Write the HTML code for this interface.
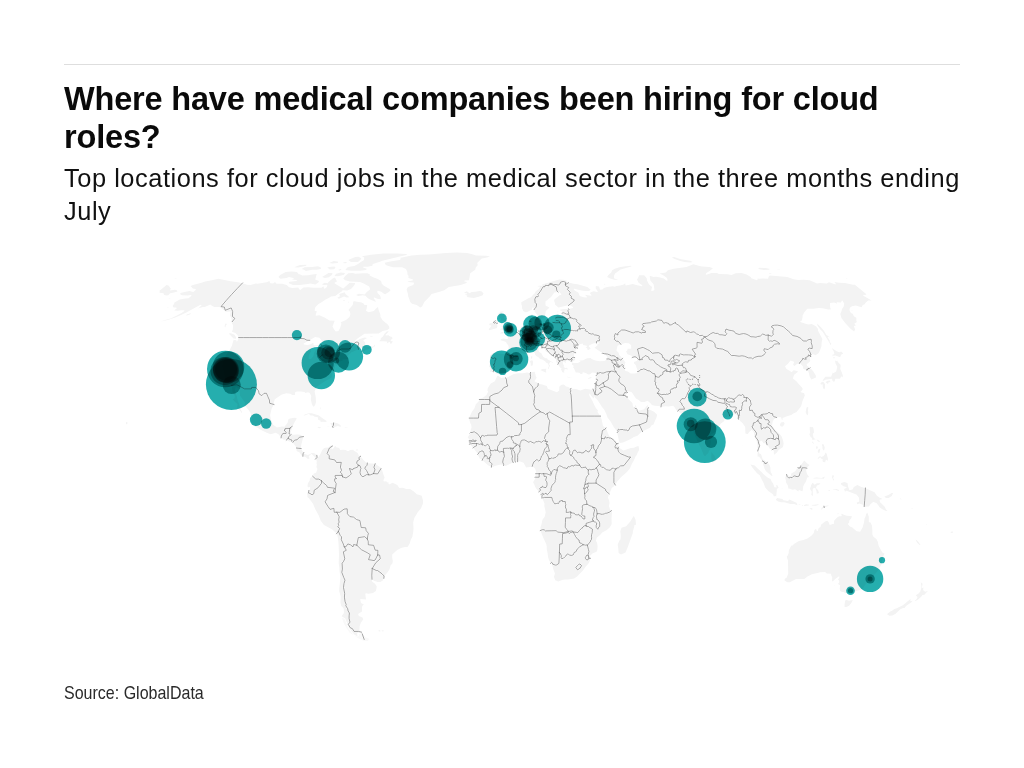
<!DOCTYPE html>
<html lang="en"><head><meta charset="utf-8"><title>Where have medical companies been hiring for cloud roles?</title>
<style>
html,body{margin:0;padding:0;background:#fff}
body{width:1024px;height:768px;position:relative;overflow:hidden;font-family:"Liberation Sans",Arial,sans-serif;color:#111}
.rule{position:absolute;left:64px;top:64px;width:896px;height:1px;background:#dedede}
h1{position:absolute;left:64px;top:81px;margin:0;font-size:32.5px;line-height:37.9px;font-weight:700;letter-spacing:-0.18px;color:#0a0a0a;white-space:nowrap}
.sub{position:absolute;left:64px;top:162.3px;margin:0;font-size:25.4px;line-height:33px;font-weight:400;letter-spacing:0.545px;color:#111;white-space:nowrap}
.src{position:absolute;left:64px;top:683.1px;font-size:17.9px;line-height:20px;color:#2a2a2a;white-space:nowrap;transform-origin:0 0;transform:scaleX(0.895)}
svg{position:absolute;left:0;top:0}
.bub circle{mix-blend-mode:multiply}
</style></head><body>
<div class="rule"></div>
<h1>Where have medical companies been hiring for cloud<br>roles?</h1>
<p class="sub">Top locations for cloud jobs in the medical sector in the three months ending<br>July</p>
<svg width="1024" height="768" viewBox="0 0 1024 768">
<path d="M341.8,617.4 344.2,624.2 349.4,632.5 357.8,638.0 362.9,640.4 365.0,641.0 368.0,641.0 368.6,639.7 369.8,639.0 365.5,637.3 362.9,634.5 361.9,633.6 360.5,633.5 359.2,634.2 359.1,636.1 357.0,636.8 354.0,635.4 350.9,631.7 347.8,627.4 346.3,623.1 344.6,619.0Z" fill="#f9f9f9" fill-rule="evenodd"/>
<path d="M952.9,532.7 953.1,531.5 950.8,531.7 950.7,532.9ZM914.8,601.3 917.9,599.7 921.9,596.0 922.1,595.3 924.8,594.5 925.9,593.1 927.9,591.1 925.1,591.7 923.5,590.5 923.1,589.5 923.5,587.6 922.4,588.1 921.8,587.6 922.4,585.0 922.4,583.6 921.4,582.9 920.9,582.1 920.9,583.0 921.5,586.6 921.2,588.5 920.3,591.5 918.6,593.6 915.8,595.2 917.3,596.8 917.4,597.8 916.2,599.4 914.6,601.0ZM926.0,525.0 926.2,525.1 926.6,524.2 926.1,523.8ZM915.7,540.0 917.2,542.7 919.9,545.2 920.5,545.1 918.3,541.8 915.8,539.6ZM887.9,614.6 889.2,615.8 892.5,615.5 895.6,613.8 900.0,609.5 902.4,608.3 905.0,607.8 905.0,607.2 906.3,605.8 911.8,601.9 912.6,600.7 911.0,601.2 910.5,601.1 910.3,600.7 910.6,599.1 910.2,599.2 902.9,605.3 896.2,608.6 894.3,609.1 892.1,610.8 890.3,611.6 887.1,613.9 886.7,614.6ZM911.2,508.2 912.6,508.7 912.9,508.2 911.2,507.9ZM899.7,497.4 901.0,499.7 901.4,499.2ZM885.9,497.9 888.6,497.9 891.8,496.0 893.1,493.1 891.7,492.9 887.9,495.2 884.4,496.5ZM892.3,489.6 894.6,493.0 892.7,489.9ZM843.5,486.3 846.3,487.1 846.6,487.5 846.4,488.1 844.0,489.1 845.0,491.8 846.2,490.8 846.6,490.7 856.4,494.5 858.9,497.5 859.3,501.3 859.0,501.7 856.8,502.4 857.1,504.2 859.5,503.5 862.9,504.7 864.4,506.4 865.4,506.7 868.9,506.4 870.4,504.2 873.1,502.1 873.5,502.1 876.8,503.2 879.8,507.5 882.8,509.6 886.1,511.0 887.6,510.2 886.1,509.7 884.7,506.7 882.2,504.2 880.1,502.3 879.5,499.9 879.9,499.6 881.5,499.4 881.6,498.3 879.8,497.8 876.9,495.7 874.5,492.3 866.0,488.5 860.2,486.5 857.4,485.1 853.9,487.0 852.5,489.4 849.7,490.2 849.3,489.9 848.0,486.2 847.5,482.9 844.2,481.9 841.2,483.1 840.8,484.2ZM787.3,582.2 789.8,582.3 796.0,579.1 804.3,578.9 807.5,576.4 811.9,574.3 819.4,572.5 819.9,572.2 825.1,571.9 826.8,573.4 830.9,573.8 831.5,576.0 832.2,577.3 832.0,580.9 832.8,581.4 835.0,579.3 838.6,576.5 839.0,576.4 839.3,576.6 839.4,577.2 837.7,580.5 838.5,580.0 839.0,580.1 839.3,582.3 838.0,583.9 840.2,585.3 839.7,588.4 840.2,591.1 841.9,591.9 843.9,592.1 845.5,593.3 848.6,591.9 849.7,590.9 850.1,590.7 850.5,591.0 851.0,592.6 852.0,593.9 854.1,592.1 857.1,590.7 862.3,589.5 864.8,585.3 867.4,582.6 868.6,580.5 877.1,571.8 881.9,563.8 882.2,560.2 883.3,556.0 884.6,553.5 882.8,552.9 880.9,550.1 878.5,545.5 877.9,542.0 876.4,538.9 873.4,536.7 872.4,534.4 872.3,529.6 871.9,525.6 870.6,522.4 869.2,522.3 868.8,522.0 868.8,516.8 867.3,512.4 866.2,514.0 865.4,517.1 864.6,518.3 863.9,522.7 862.6,527.6 860.1,531.7 856.6,531.3 852.3,527.6 850.0,526.6 847.9,524.3 848.0,523.6 849.1,523.1 849.3,520.4 851.1,518.5 852.0,516.2 846.8,515.8 844.3,515.0 842.3,513.9 841.2,513.7 841.7,515.6 841.6,516.0 841.2,516.2 839.4,516.2 837.8,516.9 836.1,518.4 834.1,520.7 833.9,523.7 833.7,524.0 832.6,524.1 829.8,524.9 829.5,524.6 828.5,521.9 827.3,520.8 825.1,521.4 821.0,524.8 820.6,527.1 818.7,528.1 817.7,531.0 817.3,531.1 816.9,530.9 816.0,528.7 814.5,530.0 813.8,533.1 811.7,535.4 807.4,538.6 803.5,539.9 798.9,541.0 794.3,543.8 792.2,545.8 791.6,545.8 791.4,545.3 788.8,550.4 788.7,553.1 787.9,555.2 786.7,556.7 788.0,560.6 788.2,573.8 786.6,577.7 784.8,578.7 784.5,580.5ZM469.2,439.2 469.5,441.2 469.5,444.0 471.4,445.7 476.8,452.4 478.1,455.4 479.7,458.5 482.2,459.9 488.4,465.4 492.0,467.2 495.6,465.7 500.7,464.6 503.4,465.1 505.5,466.0 513.7,462.2 519.4,461.3 523.6,462.8 526.1,467.4 529.6,467.1 532.0,466.5 533.4,466.9 535.2,468.7 536.1,471.8 535.8,473.7 534.8,479.3 533.1,482.3 534.3,484.5 535.1,486.8 536.3,488.8 538.7,491.4 540.8,494.0 541.8,496.2 542.1,497.9 544.5,503.5 544.3,505.9 545.7,512.3 544.6,517.1 542.4,519.8 541.4,524.7 540.5,527.0 540.5,530.6 542.1,534.9 546.3,544.3 546.8,547.1 546.7,548.8 547.6,553.2 548.2,557.8 549.2,560.4 551.0,563.6 552.2,564.8 553.3,569.2 555.0,573.6 553.9,576.7 554.9,579.2 555.1,580.3 556.1,580.4 558.2,581.5 563.0,579.8 565.4,579.4 567.8,579.5 571.6,579.1 574.2,578.4 577.1,576.4 583.0,570.6 585.2,567.3 588.1,564.1 589.4,561.9 590.3,558.8 589.8,556.3 589.9,555.9 592.4,553.5 596.5,551.8 597.3,549.9 597.6,545.9 597.1,543.1 596.0,540.7 596.7,537.8 600.3,534.8 602.2,532.5 606.8,530.1 609.9,527.3 611.7,523.9 611.5,518.1 612.0,511.6 610.1,509.6 608.9,506.0 609.5,503.0 609.1,500.2 607.9,497.7 608.7,495.0 611.2,489.5 611.6,487.9 613.4,486.7 615.1,485.0 617.4,481.2 618.2,480.6 621.2,477.1 626.9,471.9 629.9,468.4 631.8,464.1 634.0,460.3 635.4,456.8 636.6,455.3 637.7,452.5 639.1,449.9 638.7,446.2 637.1,446.3 634.0,447.8 630.9,448.1 623.5,450.4 617.9,447.0 617.8,446.6 618.2,446.1 618.5,444.0 613.2,438.4 610.1,436.9 608.7,435.0 605.9,428.1 603.0,426.0 601.6,419.2 600.2,415.8 597.4,411.9 598.0,410.4 596.0,408.2 594.0,404.6 592.5,401.1 589.4,395.8 589.1,394.1 589.3,393.7 589.6,393.5 590.0,393.7 590.9,395.4 593.6,398.6 594.2,396.8 594.6,396.6 595.1,396.7 595.1,398.2 595.9,398.3 597.7,400.3 602.0,407.1 604.3,409.8 606.4,414.2 607.5,417.4 610.6,421.4 614.0,427.6 616.8,430.9 619.1,441.4 619.7,442.9 623.0,442.6 630.3,439.2 633.9,437.1 637.5,435.7 640.3,432.9 642.2,431.6 650.0,427.8 651.6,425.2 653.5,424.6 655.0,420.7 656.4,417.8 657.2,414.8 654.1,411.8 649.3,409.5 648.0,407.2 647.7,404.8 644.1,409.3 640.6,410.2 637.9,410.4 636.2,408.8 636.0,408.4 636.3,406.5 635.5,405.0 635.1,405.9 635.2,407.7 634.9,408.0 634.4,407.9 632.9,406.0 632.5,403.3 631.2,401.8 628.7,399.6 626.3,394.8 626.0,393.1 626.3,392.7 627.6,392.5 628.3,391.4 628.7,391.2 631.8,392.3 635.9,398.5 638.7,400.0 641.0,402.0 644.4,402.0 647.6,400.7 650.0,402.7 651.9,405.1 654.8,405.8 658.7,406.1 661.5,406.8 665.7,406.2 668.4,406.4 673.2,405.8 674.8,407.6 676.4,410.3 681.2,413.4 682.7,413.6 682.7,414.4 681.0,415.5 684.5,419.0 685.8,419.5 686.7,419.1 688.5,415.6 689.0,415.4 689.4,415.7 690.2,418.4 691.3,425.0 694.8,435.0 698.0,442.6 700.7,447.4 703.9,455.3 705.2,456.2 706.5,454.4 708.3,453.0 709.0,450.4 710.3,450.0 710.0,445.6 710.8,442.1 709.8,438.1 710.3,434.9 714.8,432.0 714.8,430.5 718.8,426.7 720.6,423.8 724.3,420.9 724.6,417.9 724.8,417.6 727.5,416.6 729.3,416.9 730.9,416.3 732.6,416.1 733.2,415.3 734.7,414.1 735.2,414.1 736.7,415.0 737.6,417.7 738.6,419.1 740.4,421.3 742.7,423.2 745.2,427.0 745.4,433.4 746.1,433.7 747.8,433.9 749.4,431.7 750.8,430.8 751.4,429.9 751.9,430.1 753.6,432.0 754.7,436.5 755.7,439.3 756.6,440.8 757.5,444.1 757.5,446.8 758.0,451.2 757.5,454.7 757.7,456.8 758.8,456.6 759.2,456.8 763.0,462.0 763.2,464.5 764.6,468.8 766.0,471.3 771.1,475.6 772.0,476.1 772.5,475.9 771.6,473.5 770.7,472.3 770.4,469.3 770.4,467.3 769.2,464.5 767.5,462.6 766.3,462.0 764.9,460.5 763.0,459.6 762.4,458.6 761.7,456.0 760.9,453.9 759.3,453.6 759.0,453.3 758.9,449.7 759.9,445.9 759.9,441.5 761.2,440.7 761.7,440.7 763.0,442.2 763.1,443.2 764.9,443.2 767.2,444.5 770.0,449.1 771.8,449.2 772.6,449.7 773.8,450.9 773.9,454.0 774.2,454.7 776.9,452.6 778.6,449.9 783.0,446.9 783.6,443.3 783.0,440.2 781.5,436.2 779.4,433.7 774.5,429.0 772.3,426.0 772.1,424.9 772.6,421.8 773.8,419.4 777.1,417.0 781.0,417.3 781.8,419.4 782.5,420.2 782.5,418.5 782.8,418.1 786.2,416.6 791.2,414.9 792.9,413.7 796.6,411.9 800.9,406.6 801.7,404.3 802.4,401.3 804.8,395.6 804.1,393.3 800.9,392.3 800.6,391.9 800.7,391.4 801.5,390.9 802.8,389.1 802.0,387.4 798.9,384.2 796.4,381.3 793.5,379.1 792.9,378.2 794.2,374.7 798.0,371.7 797.2,371.1 793.6,370.3 791.8,372.0 791.3,372.1 789.5,370.8 786.5,369.0 785.1,366.6 785.0,366.2 788.2,363.5 790.5,360.6 794.0,361.8 794.1,362.2 793.1,364.8 794.4,366.1 796.6,364.3 799.4,363.1 801.2,364.4 803.2,366.8 803.2,367.4 802.8,367.7 803.6,369.0 808.0,370.6 809.0,373.5 809.6,376.2 811.3,379.6 816.0,377.5 815.7,375.3 813.0,371.0 810.2,368.1 807.2,366.1 806.6,364.0 806.9,363.7 807.8,363.4 810.3,361.0 809.7,358.1 812.2,354.3 812.8,354.1 815.6,355.2 818.7,353.1 820.2,349.7 821.5,346.1 821.6,342.4 822.4,339.1 818.0,330.7 817.9,328.8 815.9,326.2 811.7,324.0 808.8,324.6 806.3,324.0 800.3,322.0 800.4,321.3 801.9,320.6 802.6,316.9 802.5,315.8 804.2,312.5 807.3,308.7 813.2,308.8 818.7,308.0 822.7,308.3 828.2,309.4 831.2,309.2 830.2,307.9 829.9,303.3 830.1,302.9 834.1,302.5 837.3,303.8 836.7,302.9 836.9,302.3 841.0,302.5 841.7,300.8 842.4,300.6 844.2,303.5 843.7,306.4 842.0,308.9 841.4,311.5 840.3,314.1 841.4,318.0 845.6,323.4 850.8,328.9 854.2,331.6 855.1,329.2 853.9,326.4 854.2,326.0 855.9,325.6 854.5,324.0 854.5,323.5 856.9,322.1 856.4,320.9 856.3,317.8 853.9,316.2 852.7,313.8 850.9,312.9 849.4,310.1 849.9,307.7 851.9,306.2 855.6,305.6 861.7,307.2 862.7,305.0 864.3,304.4 866.1,302.3 868.2,300.5 871.6,300.4 863.4,295.8 863.2,295.3 863.5,294.8 865.2,295.0 866.4,294.3 854.9,284.8 852.9,284.7 845.0,283.0 839.1,282.7 834.4,282.1 835.8,283.7 835.8,284.1 835.5,284.4 829.0,282.3 826.7,283.4 820.4,283.0 817.1,283.4 809.6,280.3 803.5,279.8 798.1,280.0 793.5,279.3 787.3,277.1 770.0,275.5 768.7,276.5 768.2,278.4 767.9,278.8 762.9,278.6 759.4,278.8 757.6,278.6 757.4,279.9 756.9,280.2 751.3,278.3 751.1,278.0 751.1,277.2 746.6,274.5 741.7,273.1 735.7,273.3 731.6,275.0 727.3,274.3 718.8,274.0 717.0,273.1 711.7,273.1 706.2,274.8 705.8,274.6 705.7,274.2 706.4,273.1 709.9,270.8 712.9,268.2 709.4,266.9 701.9,266.4 698.6,265.8 693.4,264.3 686.5,266.9 673.7,268.7 667.9,270.3 665.8,272.6 659.6,273.6 663.6,275.4 667.0,277.9 667.6,280.2 667.2,280.8 666.7,280.7 663.7,278.5 660.3,277.4 656.2,276.7 653.5,276.9 649.7,275.8 650.3,280.4 653.6,284.2 654.4,289.6 654.2,290.2 651.8,290.9 651.3,290.7 651.2,290.3 652.1,286.9 649.0,284.5 647.1,280.7 646.7,278.3 644.2,275.2 639.1,275.2 638.4,277.2 637.0,279.4 638.6,282.8 642.2,285.3 642.4,285.8 642.0,286.2 637.1,285.2 632.8,283.9 625.8,285.4 625.4,285.0 625.3,283.2 623.7,284.6 620.3,285.6 616.5,285.9 614.8,286.7 612.6,286.2 607.2,286.9 603.9,287.9 602.4,289.6 600.4,289.7 599.9,289.3 599.0,286.4 595.8,285.9 595.7,288.6 597.1,290.3 597.7,291.4 597.7,291.9 597.1,292.1 593.9,291.2 591.4,291.9 589.8,292.9 591.4,295.0 591.4,295.5 591.1,295.8 585.0,294.7 586.9,296.7 586.9,297.2 586.5,297.5 583.5,297.3 579.8,296.0 578.3,292.6 575.0,290.8 573.8,289.6 573.8,289.1 574.4,288.8 581.3,290.6 585.3,291.1 589.1,291.1 590.7,289.8 587.3,286.9 577.5,284.2 573.6,283.7 570.6,283.0 567.7,282.9 565.8,282.1 565.7,281.7 565.9,281.4 567.7,280.9 563.3,279.8 559.2,279.4 542.1,284.5 542.7,285.2 542.4,285.8 538.7,285.7 537.4,286.4 539.6,286.4 540.0,286.7 540.0,287.1 539.0,288.8 535.6,291.5 534.8,293.3 532.9,294.9 531.0,297.2 528.4,298.3 521.3,302.3 521.4,304.6 522.1,306.3 522.0,308.6 523.0,309.9 523.1,310.9 525.6,312.3 527.4,311.9 530.4,310.2 531.9,309.7 532.4,307.8 533.0,307.5 533.4,307.8 534.4,309.9 534.5,311.5 538.2,316.1 538.2,316.5 537.9,316.9 538.1,317.8 538.7,318.9 540.2,319.4 543.7,317.4 544.4,317.2 545.0,316.1 545.8,310.9 549.3,307.8 548.6,306.9 545.7,305.7 545.4,303.4 545.6,300.9 547.0,300.4 548.7,298.7 551.1,297.1 554.3,292.5 558.2,291.9 559.5,292.1 561.2,293.9 561.3,294.4 561.1,294.8 559.6,295.2 554.4,299.5 554.1,300.8 555.0,303.3 555.0,304.5 558.4,307.5 566.1,305.7 569.6,305.1 573.0,307.1 573.1,307.9 568.8,309.1 565.6,309.0 562.2,309.2 560.0,309.8 560.1,310.5 562.0,311.3 562.3,311.6 562.3,313.3 561.7,315.5 561.2,315.8 559.5,315.5 558.0,313.9 556.1,314.9 555.6,316.8 556.0,319.1 552.6,322.9 550.8,322.9 549.8,321.8 547.3,322.1 544.4,323.4 541.6,324.3 539.6,322.4 535.7,324.0 534.2,324.0 533.9,323.6 533.9,322.9 532.5,322.9 530.7,321.4 530.7,320.7 532.2,317.5 532.6,314.0 528.4,315.7 528.3,316.7 530.3,322.7 529.5,324.2 528.1,325.1 526.0,325.7 522.8,325.9 521.4,326.8 519.0,331.1 515.2,332.4 514.7,333.9 513.5,335.2 510.2,337.1 508.3,336.9 507.7,336.5 507.9,338.5 507.6,338.9 506.3,339.0 503.1,338.6 500.6,339.6 500.7,340.2 501.4,340.6 504.7,341.5 506.1,342.1 506.7,343.6 508.4,345.4 508.7,347.3 508.5,350.0 507.8,353.4 506.8,354.0 504.0,354.0 493.3,352.9 490.0,355.2 490.7,357.3 491.1,360.2 489.1,366.8 490.6,368.1 490.1,371.8 492.2,371.8 494.5,371.3 496.2,373.4 498.0,374.4 500.4,372.7 505.0,372.2 505.6,372.5 508.1,370.2 509.4,368.0 510.7,367.0 509.7,365.1 510.5,363.4 513.4,360.0 515.6,359.1 517.8,356.8 517.4,356.0 517.7,354.1 519.7,352.8 523.1,353.5 524.4,354.1 525.8,353.7 527.1,352.4 528.9,351.8 529.9,350.7 531.1,350.3 533.5,351.5 534.7,353.0 535.2,354.7 536.5,356.2 538.2,357.1 540.1,358.9 542.2,359.6 545.1,361.2 545.9,362.6 547.6,363.2 548.5,364.8 548.9,366.3 548.2,367.6 547.9,368.8 548.3,368.9 549.1,368.0 549.2,366.7 550.2,366.0 549.0,364.0 550.3,362.0 550.9,361.8 553.2,363.3 553.3,363.1 552.2,361.9 547.4,359.2 547.2,358.8 547.4,358.3 545.4,358.2 543.2,356.7 541.3,353.3 539.2,352.0 538.4,350.7 538.7,349.2 538.4,347.6 538.7,347.3 541.3,346.3 542.2,347.0 541.9,348.1 542.4,348.9 543.2,347.8 543.8,347.8 544.9,348.8 545.0,349.8 545.7,351.3 551.1,354.4 554.9,357.1 555.6,357.8 556.1,359.6 556.2,362.0 560.4,367.8 561.7,368.4 561.6,368.9 560.7,369.6 561.7,370.6 562.2,372.4 562.8,372.0 563.1,372.1 563.5,372.7 564.4,372.4 564.0,371.0 564.2,370.7 564.6,370.6 564.3,369.7 564.6,369.3 566.3,369.1 567.2,369.7 567.8,369.0 566.9,367.7 565.1,367.9 563.7,367.1 563.7,366.5 564.4,366.0 564.0,365.7 562.9,363.6 562.8,362.1 563.5,361.5 564.0,361.4 565.3,362.9 566.0,362.3 565.6,361.6 565.7,361.1 567.1,360.3 568.6,360.3 570.8,360.6 571.4,361.2 572.0,363.4 571.9,364.7 573.2,365.2 573.6,366.2 573.0,367.8 573.5,367.8 573.8,368.0 575.8,372.6 577.2,372.4 579.4,372.8 580.7,374.1 582.3,373.9 582.6,372.6 583.2,372.3 586.3,373.2 588.3,374.6 590.1,374.3 592.1,372.4 596.1,373.1 596.4,373.6 595.7,376.6 596.1,379.7 594.7,384.6 594.3,386.9 593.3,388.9 591.3,389.8 585.1,388.7 580.4,390.5 575.9,389.0 571.1,388.7 568.1,386.9 566.1,386.6 564.5,384.9 563.3,384.6 561.1,384.9 559.3,386.7 559.2,390.5 556.9,392.2 547.8,388.7 546.8,386.0 542.2,384.6 538.1,383.7 536.7,382.2 534.7,381.6 534.5,381.0 536.1,378.7 536.6,377.5 535.7,375.9 535.4,374.1 534.7,372.9 534.8,372.5 535.5,372.1 534.0,371.7 529.2,372.9 527.2,372.6 522.6,373.2 518.1,373.2 513.3,374.3 506.1,378.1 503.7,377.6 501.3,377.9 498.2,375.8 497.2,376.1 494.9,381.2 490.8,383.5 488.9,386.2 487.7,388.4 487.4,390.8 488.0,391.3 488.1,391.7 486.5,395.0 483.2,397.4 479.8,399.0 478.6,401.5 475.8,404.3 474.5,408.2 472.0,411.4 469.6,416.8 469.2,419.6 470.4,423.5 471.1,424.2 471.6,427.5 470.8,429.4 470.2,433.8 468.8,435.4 467.7,437.4ZM619.3,355.1 618.6,352.8 616.4,350.6 617.5,345.7 620.8,344.2 625.2,343.0 628.8,343.3 630.9,344.9 631.1,345.3 631.2,348.5 630.8,348.7 627.7,348.7 627.1,350.8 626.0,351.3 627.5,354.3 631.6,355.8 632.5,358.1 633.8,357.1 636.4,357.7 636.7,358.0 637.2,360.8 634.0,361.9 633.9,363.2 635.8,365.3 636.5,367.6 637.7,370.6 637.7,372.9 634.4,373.6 630.7,373.6 627.9,371.5 625.3,370.9 624.5,368.1 625.0,362.8 625.8,362.2 624.9,361.8 623.3,359.4ZM575.2,359.2 574.7,358.0 573.5,356.5 573.4,356.1 574.2,355.4 574.1,353.9 575.4,353.2 575.7,349.6 576.0,349.3 577.4,349.1 577.5,348.2 579.5,344.3 582.6,343.6 583.0,344.0 583.0,344.9 584.2,345.3 586.9,345.7 587.1,346.0 587.0,346.5 585.5,347.6 587.1,348.1 587.6,350.1 588.5,349.9 590.7,348.5 588.7,346.3 588.8,345.8 589.9,344.9 593.1,343.6 594.7,343.3 596.5,343.3 596.6,342.7 597.1,342.5 599.0,342.5 599.4,342.7 599.4,343.2 599.1,343.5 597.6,344.1 597.4,345.6 594.5,347.8 603.3,353.7 606.3,355.5 607.3,357.6 606.9,359.5 604.4,361.0 599.5,361.3 596.6,360.7 594.6,360.2 591.6,359.0 590.8,357.9 587.5,358.2 585.4,358.9 583.4,360.2 580.8,360.5 578.8,360.4 580.3,361.0 580.5,361.6 577.9,363.0 574.5,363.1 572.3,362.7 572.1,362.4 572.2,362.0 575.0,360.1ZM532.2,319.8 532.8,320.4 533.3,320.1 533.1,319.7ZM536.0,318.7 534.8,319.2 535.0,320.0 536.4,320.5 537.2,319.1 537.1,318.5ZM846.4,606.9 849.1,605.8 851.5,602.7 852.8,600.0 849.1,600.7 845.8,599.7 845.0,601.6 844.6,604.4 844.6,606.9ZM852.2,311.1 852.6,310.7 851.8,310.3 851.7,310.9ZM846.4,279.1 847.5,279.1 846.7,278.5 846.0,278.6ZM833.9,351.8 834.4,354.1 833.9,354.6 832.5,354.3 832.9,355.0 832.4,355.6 832.2,356.3 832.4,356.5 832.5,356.1 832.8,355.8 835.6,355.5 840.1,357.3 841.1,354.7 843.3,353.6 841.2,351.4 839.7,352.2 839.3,352.2 836.6,351.2 831.7,348.1ZM833.0,357.2 834.0,358.7 834.6,358.1 835.1,358.0 834.4,357.2ZM821.0,384.4 821.7,384.6 822.3,384.3 822.8,384.5 822.7,386.5 823.5,388.8 824.3,389.2 824.8,388.4 825.1,387.1 824.9,385.1 825.2,384.1 824.3,383.4 823.9,382.3 822.0,381.7 820.4,383.4ZM823.9,380.7 825.1,379.7 831.7,378.7 832.2,379.1 832.1,380.2 834.0,382.0 835.3,380.1 835.0,379.3 835.3,378.8 839.9,378.8 840.7,377.4 840.8,376.7 841.2,376.4 841.7,376.5 842.2,377.5 843.0,376.0 841.8,372.4 840.2,368.8 840.6,366.6 840.5,364.8 838.1,362.3 837.1,360.6 837.0,361.0 836.6,361.2 835.1,360.6 835.5,363.5 837.3,366.7 836.2,371.5 833.7,373.1 833.1,372.9 832.9,372.2 831.1,376.7 825.3,376.8 822.5,380.6ZM833.2,490.0 835.3,489.8 838.7,490.9 839.1,490.1 836.4,488.9 833.1,489.6ZM837.3,514.2 838.8,514.0 838.8,513.6 837.2,513.8ZM834.6,585.2 835.8,584.9 833.6,585.1ZM832.9,479.2 833.1,480.7 834.1,479.4 833.1,478.3 833.0,477.9 834.0,476.0 832.7,474.7 832.0,477.3ZM817.1,323.6 817.4,325.4 819.9,328.9 822.8,332.1 829.6,342.9 830.2,344.5 830.9,345.3 830.9,344.2 831.5,343.9 829.8,342.1 829.7,340.6 827.6,337.3 827.7,336.9 828.2,336.8 830.5,337.6 826.4,335.0 823.9,330.8 821.6,328.0ZM826.7,382.9 828.0,383.9 828.6,382.2 829.0,382.1 830.2,382.6 830.2,380.7 829.0,380.4 827.0,381.0 826.5,381.7 826.0,381.6 825.7,382.6ZM828.4,490.7 829.8,490.9 830.1,490.2 828.4,490.1ZM821.6,509.5 823.8,507.6 827.7,506.2 828.8,505.2 824.3,505.9 821.8,507.8 820.8,509.7ZM817.7,459.2 820.0,457.4 820.6,457.4 821.0,458.4 822.8,459.2 822.5,460.5 823.0,461.9 825.4,462.3 825.3,461.6 825.8,459.9 826.5,459.8 827.5,461.0 828.0,459.0 826.7,453.7 825.4,452.5 824.9,454.3 823.6,455.9 821.4,457.1 821.0,456.9 820.1,455.9 818.0,457.8ZM811.8,491.7 811.3,495.1 812.9,495.9 812.7,489.0 813.0,488.6 814.9,487.8 815.3,488.1 816.6,491.8 816.8,493.7 819.0,493.1 818.0,490.1 816.1,488.2 816.0,487.7 816.9,485.6 819.5,484.6 820.4,483.3 816.8,483.3 814.7,484.7 812.6,482.7 811.3,484.8 810.0,489.0ZM820.2,478.4 823.8,478.7 824.9,476.4 821.6,478.1 816.4,477.5 813.5,478.0 813.3,478.4ZM822.5,446.7 822.4,448.5 823.5,450.4 824.2,450.3 824.8,447.7 823.5,444.3 821.8,444.3ZM818.3,452.7 819.3,453.2 820.4,448.4 818.6,449.2 817.7,451.2ZM809.1,433.6 810.4,436.7 811.2,437.7 811.8,437.5 812.2,437.8 812.2,438.2 811.9,438.9 812.7,439.9 814.2,439.4 815.9,439.4 815.3,439.2 813.5,437.4 812.8,434.1 812.9,433.7 814.0,432.6 813.8,429.9 813.0,426.9 812.0,427.2 809.8,426.8 809.7,429.0 810.2,433.3 809.8,433.8ZM816.5,439.6 818.0,441.5 819.9,442.3 819.4,440.7 818.0,439.9ZM815.3,505.8 818.4,505.0 818.5,504.3 811.8,505.1 811.8,505.5ZM816.1,447.4 816.5,449.2 817.3,448.8 818.0,446.8 816.1,446.2ZM811.7,441.7 812.5,442.8 813.4,444.1 813.8,443.6 812.9,441.7ZM809.5,508.6 811.5,509.8 812.7,509.2 812.0,508.1 809.4,508.3ZM785.9,480.2 785.9,482.2 787.9,485.4 788.3,488.4 790.1,488.7 792.5,489.8 795.1,489.3 798.4,491.5 798.6,490.4 799.0,490.1 802.3,491.2 802.8,490.3 803.2,486.5 804.3,483.9 806.0,481.6 807.0,477.9 807.3,477.6 809.2,477.1 807.0,474.1 806.1,470.4 806.8,467.7 809.6,465.0 807.2,463.6 804.2,460.5 802.5,463.1 800.1,466.0 797.6,467.8 795.2,471.3 791.3,473.6 790.7,476.4 790.2,476.5 786.7,474.8 786.1,475.6 785.2,477.7ZM802.8,505.8 803.0,504.9 802.1,504.9 802.0,505.7ZM804.0,506.1 808.8,505.4 809.0,504.8 806.3,504.3 804.1,505.0ZM806.5,414.2 807.7,415.5 808.2,412.9 808.0,410.2 808.3,407.6 807.4,407.0 806.6,407.5 805.6,412.0ZM798.7,504.7 800.3,505.1 800.5,504.5 798.6,504.3ZM775.7,499.8 778.2,501.5 781.1,502.3 784.3,502.3 790.5,504.1 794.2,504.1 797.5,505.2 796.5,502.7 793.6,501.6 790.5,500.1 789.6,499.5 788.2,500.8 787.8,500.9 783.4,500.2 782.5,499.0 777.2,497.9ZM780.3,426.1 782.2,426.8 783.9,425.3 784.6,423.2 783.6,422.1 780.9,422.6 780.0,424.4ZM781.8,489.0 782.3,489.1 782.4,488.5 781.8,488.3ZM780.0,270.0 780.4,269.8 778.3,269.4 776.2,269.5ZM750.7,465.0 752.7,468.0 757.1,473.3 759.7,475.2 762.0,480.1 763.6,482.9 765.2,487.4 768.3,491.1 773.2,494.6 773.8,496.6 775.3,495.9 776.2,496.5 776.9,489.7 776.8,489.0 778.6,487.7 777.2,485.1 776.0,485.5 776.7,487.0 776.4,487.5 774.4,487.3 773.1,483.4 771.6,481.4 770.6,479.1 767.9,477.7 763.3,473.9 761.5,471.9 758.7,469.5 754.7,465.5 750.6,464.5ZM770.7,273.7 772.0,273.5 769.8,272.9 768.7,273.4ZM758.4,268.9 763.8,270.0 768.8,269.7 769.9,269.0 765.8,268.0 758.8,267.8ZM742.5,446.1 742.6,446.1 742.4,441.8ZM711.5,454.0 711.2,457.0 711.6,460.1 712.5,462.5 713.1,462.6 715.8,460.4 715.4,458.0 714.2,455.6 711.5,452.2 711.2,452.2ZM674.7,259.0 680.2,261.1 684.6,262.1 690.2,262.6 692.7,262.1 690.1,260.8 680.8,259.3 674.0,257.0 671.9,257.5ZM618.3,548.5 618.6,553.0 621.0,554.6 625.5,552.6 627.7,547.2 632.8,533.1 632.9,531.2 634.2,526.8 634.3,525.4 634.6,525.1 636.0,524.8 635.6,519.7 633.9,516.0 633.0,516.9 630.5,521.3 626.2,526.3 621.5,527.8 620.3,531.3 620.8,535.7 620.5,539.5 619.4,540.4 617.7,544.5ZM610.2,278.5 614.4,279.7 618.4,279.9 614.4,278.6 614.1,278.3 614.0,275.7 615.1,273.6 620.6,269.6 631.3,266.6 631.3,265.8 625.8,266.2 619.4,267.3 614.8,268.7 612.1,270.2 611.3,272.5 609.2,274.2 608.0,275.5 607.2,277.0ZM624.2,282.1 624.3,281.9 622.4,281.5 622.3,281.8ZM604.0,284.4 605.2,284.4 605.2,283.7 603.8,283.9ZM587.9,378.5 589.0,378.8 591.2,377.9 591.7,376.8 587.8,378.2ZM566.9,377.0 569.4,377.8 572.4,377.5 570.1,377.4 567.7,376.8ZM557.0,312.4 558.4,311.8 558.6,311.5 557.7,311.4 556.8,312.0ZM549.8,314.6 550.3,313.5 550.3,313.5 549.3,314.7 549.4,314.9ZM540.8,370.3 546.1,372.7 546.3,372.1 545.8,370.7 546.5,368.8 542.1,369.1 540.6,370.0ZM530.1,361.7 530.7,363.7 530.8,365.8 531.3,366.1 531.8,365.5 532.7,365.6 533.1,362.1 532.6,360.8 532.0,360.3 530.1,360.9ZM530.8,356.7 531.4,358.7 531.9,358.9 532.3,357.3 532.1,356.1ZM517.7,365.0 518.3,364.4 518.0,364.1 517.1,364.6ZM498.6,314.2 498.9,314.8 498.3,316.1 499.3,316.7 499.5,317.0 499.2,319.0 500.0,318.2 500.4,318.1 500.8,318.4 501.1,319.4 501.1,319.9 500.5,320.3 500.5,321.4 504.0,320.8 504.3,321.4 503.7,322.2 504.8,323.0 504.9,323.4 504.5,325.3 504.3,325.6 503.2,326.0 501.2,325.7 501.1,326.4 501.9,326.3 502.3,326.7 502.3,328.1 499.9,329.6 504.5,330.3 504.9,330.6 504.9,331.0 503.9,331.8 501.2,332.3 499.9,333.9 499.2,334.5 500.1,333.8 501.6,333.4 502.6,333.7 503.1,332.8 504.3,332.4 505.4,332.9 506.5,332.4 508.3,332.1 509.1,332.4 510.5,332.1 511.3,332.3 512.7,331.9 513.4,331.5 513.4,331.2 512.3,330.9 512.1,330.4 512.7,329.5 513.9,328.6 514.2,327.7 513.4,326.9 511.1,326.9 510.9,326.5 511.1,326.0 510.1,324.9 510.4,324.3 510.2,323.6 509.3,322.6 507.9,322.2 506.3,319.1 505.4,318.5 504.4,318.5 504.0,318.2 504.0,317.7 504.6,317.3 504.6,316.8 505.2,316.2 506.5,314.1 506.4,313.9 503.9,313.9 502.0,314.3 501.7,313.8 502.1,312.8 503.9,311.5 500.6,311.5 498.9,313.3 498.0,314.0ZM488.6,329.0 489.5,330.3 495.4,328.4 496.7,328.2 497.4,326.5 497.1,323.5 498.5,322.6 497.4,320.7 495.1,320.2 493.3,320.8 492.7,321.5 493.3,321.6 493.5,322.1 492.6,323.1 489.8,323.2 489.2,325.0 491.1,325.4 491.4,326.0 490.6,326.7 490.1,327.7ZM384.6,262.8 385.8,265.1 388.5,266.1 393.1,267.2 402.1,267.2 406.0,269.0 407.3,272.1 407.6,274.8 408.5,275.7 408.4,278.1 412.6,279.3 413.0,279.8 412.6,280.4 407.7,281.4 407.8,281.9 413.7,282.6 414.1,283.1 413.3,285.1 407.9,287.1 406.6,289.6 407.7,293.0 408.2,296.3 410.3,301.9 412.0,303.8 416.7,305.1 420.2,307.4 422.1,306.5 424.3,301.9 429.7,296.6 431.5,294.0 438.9,291.9 444.2,290.2 448.8,286.9 460.8,285.1 465.8,283.2 467.2,282.1 464.6,281.6 464.3,281.3 464.3,280.9 464.7,280.6 469.0,280.2 470.2,273.3 475.3,269.7 475.7,267.5 477.7,265.3 477.3,263.3 477.4,262.8 481.7,258.6 487.0,257.6 490.0,256.3 485.9,255.8 476.0,255.4 471.5,253.9 467.0,252.9 456.7,252.5 446.1,252.9 428.7,254.5 420.3,254.7 411.6,255.4 399.6,257.9 400.5,258.2 400.8,258.5 400.7,259.0 399.8,260.0 390.3,261.4ZM463.7,292.9 466.6,293.3 466.9,293.6 467.0,294.0 466.7,294.3 464.8,294.7 467.2,295.6 467.3,296.2 466.6,296.9 473.7,298.0 478.7,296.8 482.7,295.3 483.5,293.6 481.8,291.6 479.5,290.9 475.6,291.7 471.7,291.9 469.5,293.2 466.8,291.3ZM161.9,321.3 167.3,319.9 174.5,317.8 181.0,315.1 186.3,312.6 199.5,305.2 201.0,304.8 201.6,305.0 201.5,305.6 199.0,307.7 198.1,308.6 202.9,307.0 204.8,307.0 210.3,304.4 212.0,305.7 214.2,307.0 219.5,307.0 221.9,308.4 225.9,311.8 230.0,311.5 230.5,311.8 230.0,315.4 231.2,318.0 231.8,320.2 231.6,322.7 233.0,325.0 232.9,329.2 231.9,331.7 235.3,333.1 237.5,335.1 238.9,337.7 237.2,341.6 236.5,341.4 236.4,340.2 233.6,339.8 231.9,345.7 228.5,352.1 225.8,355.5 225.1,359.3 223.0,362.4 222.8,366.6 223.3,369.0 224.2,369.8 224.3,373.3 225.2,376.5 225.3,379.2 229.7,381.1 231.4,385.2 232.0,387.3 232.3,391.2 232.8,393.1 234.9,396.1 234.5,398.5 232.6,399.2 235.1,402.1 237.6,404.2 237.1,407.8 238.4,408.8 240.8,411.5 241.3,412.9 241.9,412.4 241.7,411.3 240.6,409.8 240.0,408.0 239.3,404.5 237.8,400.7 236.8,396.3 235.4,392.8 234.8,389.7 235.5,387.4 236.2,387.1 238.9,388.7 239.5,391.2 240.1,395.8 244.9,402.2 244.7,405.5 247.8,408.9 250.3,412.5 251.8,417.3 251.6,420.0 250.6,420.9 254.7,426.6 257.7,427.8 259.3,429.0 263.0,431.0 267.4,433.0 270.8,434.3 275.7,432.8 278.5,434.3 281.4,437.8 283.1,439.4 286.5,440.0 289.3,441.5 292.1,441.5 296.8,448.1 296.4,450.5 297.8,451.7 299.2,452.1 301.4,455.5 306.0,457.2 307.9,458.9 309.5,458.5 308.8,456.3 308.9,455.9 311.2,454.1 311.7,454.1 314.5,456.8 316.8,461.1 316.5,463.9 317.0,464.5 316.4,467.1 317.4,469.0 316.3,472.5 316.0,472.8 313.9,473.4 312.6,475.9 309.9,478.2 309.7,480.4 307.9,483.3 307.5,486.5 308.8,487.4 309.6,486.8 310.0,487.0 310.2,487.4 310.0,489.2 308.9,490.7 307.8,491.9 306.9,494.0 307.4,495.1 307.5,497.3 308.7,498.1 313.0,503.7 315.3,509.2 318.5,515.1 320.9,520.9 324.0,524.9 332.3,529.5 337.1,534.1 338.1,539.1 338.6,544.5 339.0,554.7 338.7,563.5 339.4,567.5 339.5,570.8 340.4,576.7 339.8,584.0 339.3,587.8 339.2,591.3 340.7,596.5 340.5,602.8 341.3,606.3 342.0,606.5 343.8,608.8 343.9,613.1 341.6,616.3 345.2,618.5 347.1,622.8 348.5,627.0 351.5,631.2 354.5,634.7 356.9,636.0 357.5,635.7 357.0,633.8 357.2,633.3 361.3,632.1 359.4,630.4 359.6,626.3 360.8,622.8 363.2,619.4 362.5,617.6 358.8,616.1 358.2,614.3 358.4,613.8 362.0,611.4 362.0,607.1 362.8,605.3 364.0,604.5 361.0,603.1 360.2,599.4 360.7,599.1 366.0,599.6 365.3,593.9 365.5,593.4 365.9,593.3 368.6,593.8 373.0,593.0 375.9,591.1 376.8,586.4 375.0,583.7 372.0,581.6 371.8,579.7 372.4,579.5 373.9,580.7 377.7,581.9 380.4,582.0 382.8,580.5 383.4,578.6 385.8,574.2 387.8,572.1 389.5,569.2 390.5,565.6 392.4,563.6 392.8,560.9 392.2,557.7 392.2,554.4 397.2,550.0 401.0,547.9 404.8,547.0 407.5,547.0 409.6,543.7 411.0,539.3 412.3,537.0 413.2,532.1 413.5,528.4 413.2,522.5 414.3,518.0 417.9,512.1 421.0,508.3 422.9,503.8 423.1,501.0 421.7,495.7 416.8,494.3 413.8,491.4 410.1,488.9 406.4,489.1 402.6,487.7 399.3,487.9 397.3,485.0 392.6,482.8 389.1,484.4 388.6,484.0 388.4,482.3 387.5,482.5 386.1,481.3 383.9,481.4 383.4,480.2 384.6,477.4 383.4,474.6 381.5,468.3 381.1,467.8 375.0,463.8 372.1,463.4 366.9,463.2 363.7,460.2 360.6,456.5 358.8,455.5 357.7,452.9 353.6,450.5 353.4,449.8 350.2,450.1 348.1,451.3 345.5,450.1 343.1,449.8 340.6,450.1 340.2,449.9 339.2,448.0 336.1,447.2 335.3,445.8 333.5,448.3 332.2,449.2 331.8,449.3 331.4,448.7 332.4,445.5 331.7,444.7 328.4,447.5 325.3,447.8 323.9,448.3 322.1,450.2 320.7,453.4 318.3,457.2 317.7,457.1 315.1,453.6 312.9,453.0 310.9,453.3 310.5,453.9 307.8,455.1 304.6,453.9 302.6,451.4 301.0,448.6 301.2,445.3 303.2,436.8 300.5,434.7 297.0,434.4 293.2,434.7 290.1,434.4 289.6,434.0 289.7,433.5 290.5,432.9 292.6,426.2 294.4,422.4 296.6,418.7 296.4,418.0 294.3,417.7 290.1,418.6 288.4,419.3 287.6,422.8 284.5,426.7 281.9,426.5 276.9,427.6 272.9,424.5 270.9,419.2 270.1,415.2 271.6,408.7 273.8,404.5 273.7,402.9 274.8,399.2 281.8,394.4 286.5,393.2 290.2,393.8 292.4,394.9 295.0,394.9 294.9,392.6 296.7,391.4 301.0,391.4 304.5,392.0 305.4,393.1 308.0,392.3 309.7,392.9 311.3,396.1 310.8,399.2 311.9,404.3 313.1,406.6 314.1,406.4 315.2,404.8 316.0,402.0 315.7,397.1 314.6,391.5 316.6,386.7 325.1,380.9 329.2,378.9 331.7,377.2 331.7,372.8 331.2,372.5 331.1,372.1 331.4,369.2 332.3,367.1 332.8,366.9 333.2,367.4 332.9,370.5 335.0,367.7 334.9,365.5 335.6,365.3 336.2,366.1 338.5,364.1 339.3,361.4 343.0,360.7 342.3,360.2 342.6,359.5 348.2,358.7 348.6,358.4 348.0,358.1 347.4,357.0 347.4,356.6 351.0,352.4 361.2,348.1 364.5,347.9 364.7,348.3 364.6,348.8 360.7,351.2 361.2,352.7 366.4,349.8 372.6,347.8 375.1,346.0 374.9,344.4 373.5,346.5 370.9,347.1 367.5,346.8 365.3,345.9 365.1,342.1 363.5,340.9 363.4,340.4 363.6,340.0 367.1,338.0 364.6,337.5 359.8,339.1 355.7,341.4 355.2,341.3 355.0,340.9 357.1,338.7 364.5,333.8 378.7,333.5 382.6,331.1 387.3,329.9 389.3,328.4 389.2,326.5 387.3,323.9 385.2,322.6 382.6,320.3 380.5,317.0 380.3,314.2 378.6,310.1 378.0,307.0 376.3,308.2 373.8,310.9 368.8,312.3 366.2,311.0 366.0,310.6 366.7,308.6 367.2,305.1 364.5,305.1 363.8,303.7 361.6,302.5 354.3,301.2 353.3,301.6 352.7,304.9 348.4,310.0 349.7,311.2 350.4,314.0 349.5,317.0 346.0,319.9 340.7,322.2 341.4,323.7 340.1,328.0 338.5,330.9 335.8,331.5 334.1,329.4 332.5,326.4 334.7,320.7 329.5,320.4 324.5,317.4 319.4,315.3 315.9,315.7 315.7,315.1 316.8,311.2 315.0,311.0 314.6,310.6 315.3,307.2 318.5,304.1 321.6,302.3 325.2,299.7 328.7,298.1 331.0,296.5 335.3,296.0 338.5,293.5 339.0,293.5 339.2,293.0 341.7,291.5 342.6,290.2 347.3,290.6 351.0,288.9 353.3,286.5 355.2,283.8 354.8,282.9 349.7,282.7 343.6,288.2 343.1,288.4 334.7,283.4 334.6,283.0 334.8,282.6 337.0,281.6 335.0,277.5 332.7,278.5 328.4,282.0 327.8,283.3 324.9,282.7 321.7,284.2 323.8,284.9 326.9,284.7 327.3,284.9 327.4,285.3 326.9,287.0 324.8,288.8 324.1,288.5 323.4,286.2 321.4,287.7 313.7,287.7 308.3,287.2 303.4,287.4 300.3,290.1 299.9,289.9 298.2,287.4 292.3,287.9 289.0,287.2 286.7,284.9 282.2,283.7 276.5,283.7 275.0,281.9 273.1,283.4 270.3,283.2 269.9,282.8 269.5,280.9 266.6,282.2 257.6,283.7 255.9,283.5 250.6,284.9 247.0,284.7 242.7,283.2 238.0,282.2 230.5,281.2 218.3,278.8 212.0,280.3 205.1,281.5 201.6,282.7 193.0,284.9 190.6,286.1 192.8,288.6 195.5,289.1 195.8,289.4 195.7,290.0 193.3,291.9 189.3,290.9 180.2,293.1 180.7,294.8 182.1,295.2 187.5,295.5 191.0,295.0 191.5,295.5 191.3,296.0 188.5,298.3 185.2,298.6 179.8,299.6 174.4,302.4 174.3,303.6 172.6,306.0 173.7,307.5 176.2,307.5 176.7,307.9 176.6,308.4 174.2,310.6 177.7,310.7 181.3,310.2 184.0,310.2 184.4,310.5 184.4,311.0 181.6,313.1 176.5,315.8 170.6,318.5 165.1,319.9 160.8,321.4ZM333.7,354.6 328.4,354.5 328.0,354.3 327.9,353.9 329.4,352.4 331.7,351.7 337.1,351.0 337.5,351.2 337.6,351.7 337.2,353.6ZM322.6,359.6 320.4,359.9 318.4,359.0 318.2,358.4 319.5,357.0 320.9,357.1 323.7,355.4 326.1,355.4 328.7,354.7 330.1,354.7 330.5,354.9 330.4,355.6 327.2,357.7ZM313.3,356.4 311.0,358.9 309.1,359.1 308.6,358.8 308.6,356.7 309.1,354.6 311.0,351.6 311.3,350.7 310.6,350.8 310.4,350.1 313.5,347.1 315.5,346.2 319.2,346.4 321.7,345.0 328.3,345.8 330.1,347.9 329.5,350.6 328.9,350.7 326.9,349.2 325.6,351.0 324.5,354.3 322.0,355.0 321.5,354.6 321.5,352.5 319.5,353.3 318.9,352.9 319.0,352.4 320.9,350.7 321.3,348.8 321.3,348.4 319.4,347.2 317.6,348.9 315.6,350.3 314.0,352.9ZM310.1,344.4 307.4,345.0 303.9,344.5 303.5,344.0 303.7,343.5 315.1,337.1 319.4,337.8 321.7,340.6 321.9,343.4 320.5,345.2 320.0,345.1 319.7,344.6 316.4,345.3 313.9,345.2 313.5,344.8 313.4,342.8ZM357.7,450.5 357.8,449.3 356.3,449.5 356.2,450.6ZM339.9,295.9 339.7,296.5 337.2,297.7 338.9,298.8 344.1,296.5 346.6,297.5 349.4,297.2 345.5,294.1 344.7,292.3 339.3,294.0ZM345.3,270.1 351.3,270.7 360.3,270.7 366.0,270.0 366.8,268.8 363.4,267.7 363.2,267.3 363.4,266.8 367.5,266.8 372.4,265.7 372.7,264.2 373.0,263.9 379.8,261.7 382.3,260.7 407.2,254.8 406.0,253.9 396.9,253.4 383.7,253.6 371.0,254.7 361.9,256.2 364.3,257.6 363.8,260.3 360.4,262.2 358.0,264.0 354.8,265.8 354.1,266.0 349.6,266.7 347.3,267.5ZM383.4,341.2 387.1,341.5 387.3,342.2 386.5,343.2 387.3,343.2 389.1,341.9 389.5,341.9 389.9,342.3 390.0,343.5 391.3,343.8 392.7,341.7 392.6,341.3 390.9,340.9 390.6,340.5 390.8,340.0 392.5,338.6 392.1,337.1 390.1,336.5 388.4,335.2 386.0,335.6 385.4,335.3 385.6,334.7 387.4,333.1 388.8,330.9 386.8,331.5 384.7,333.6 382.9,336.4 380.5,338.5 380.9,338.8 380.9,339.3 379.2,341.2ZM345.1,280.2 349.9,281.4 360.1,281.9 363.2,283.2 369.2,286.4 370.1,289.1 370.0,289.5 366.8,292.1 364.6,294.6 358.9,293.7 356.0,295.1 358.4,296.0 362.7,295.2 365.5,295.7 367.6,298.1 370.1,299.5 374.2,301.2 376.2,301.8 373.7,298.2 373.9,297.5 374.4,297.4 377.2,298.8 380.3,299.3 380.9,298.6 380.2,295.8 377.5,292.9 377.3,291.2 377.5,290.8 378.0,290.7 381.3,291.7 384.3,294.0 385.3,294.2 389.1,291.7 390.6,290.3 389.3,288.8 383.8,285.8 381.8,283.7 381.1,280.9 377.8,279.0 373.1,277.3 369.8,275.5 369.5,274.9 370.1,274.4 367.3,273.3 362.8,273.3 355.5,273.8 352.8,273.1 348.3,273.3 345.2,276.0 343.3,278.6ZM379.1,631.5 380.6,631.2 380.0,630.0 378.1,630.7ZM381.9,631.3 383.3,631.5 383.9,630.4 381.7,630.2ZM370.4,336.4 373.0,336.8 372.5,336.3 369.8,335.7ZM367.4,345.2 369.8,345.7 370.3,345.3 369.0,345.2 367.1,344.4ZM348.2,259.9 351.0,262.1 357.9,261.9 360.6,259.7 361.3,258.3 358.6,256.8 355.2,256.9ZM348.4,302.7 349.1,301.7 348.2,301.7 348.0,302.6ZM342.4,262.9 345.5,263.2 347.4,262.3 345.0,261.9ZM347.6,427.5 347.7,427.2 344.8,427.0 344.7,427.6ZM345.1,300.7 345.2,300.2 343.3,300.2 342.9,301.1ZM334.4,276.1 338.1,276.3 344.0,274.7 345.0,273.0 340.7,272.4 336.2,273.8ZM339.7,270.4 341.6,269.5 340.6,269.0 338.0,269.9ZM328.3,427.0 330.3,426.9 327.0,426.4 326.9,426.6ZM330.8,426.9 333.2,427.3 333.8,428.2 334.6,426.9 337.7,426.1 340.5,426.8 341.1,426.1 339.5,424.4 338.0,423.4 335.4,422.8 330.2,423.2 332.0,426.0 331.8,426.6ZM329.2,263.0 332.3,263.4 337.7,263.0 338.3,261.8 333.8,261.0ZM328.0,268.1 329.7,269.5 334.1,269.3 335.5,267.6 334.5,266.5 328.9,267.1 326.4,268.2ZM322.1,276.9 324.9,278.0 328.9,277.3 332.1,274.8 332.4,273.1 328.5,272.9ZM305.4,415.2 308.8,413.7 310.6,415.5 313.0,415.6 314.2,416.5 317.7,417.2 318.0,417.6 318.1,419.7 320.8,420.8 320.8,421.3 320.1,422.0 323.5,421.7 325.1,421.9 327.0,421.2 321.1,417.3 319.0,415.6 311.6,413.3 308.8,413.2 304.8,414.4 303.4,415.8ZM317.3,427.4 319.5,428.2 321.4,427.7 318.9,426.8ZM303.5,269.5 305.9,270.9 312.2,269.7 316.7,269.7 320.7,269.1 321.2,267.8 318.0,266.2 312.1,266.9 304.7,267.3 301.6,269.1ZM320.5,409.2 320.5,407.5 320.0,407.5 319.9,409.1ZM278.5,276.9 280.4,278.7 286.4,278.0 289.1,277.0 293.4,278.1 293.7,278.6 293.5,279.1 291.7,279.5 296.5,280.1 296.8,280.4 296.7,280.9 296.3,281.1 289.8,281.7 288.7,282.5 289.0,283.2 293.0,285.1 299.8,284.9 307.9,284.1 310.3,283.6 315.4,284.4 318.6,282.3 319.0,280.9 315.6,279.8 315.3,279.5 316.2,275.7 316.8,274.1 312.5,274.5 308.2,275.2 302.4,275.5 299.7,274.3 298.7,274.3 297.0,272.1 291.5,271.5 285.7,271.9 280.1,274.9ZM294.2,267.3 298.3,267.5 306.1,265.7 306.6,264.7 299.9,265.1ZM229.4,334.3 232.1,336.9 232.5,337.6 233.7,338.5 236.1,338.8 236.0,337.2 234.5,334.8 231.7,333.5 229.4,333.1ZM225.5,327.5 225.6,325.7 227.0,323.9 225.5,323.5 224.5,326.3ZM187.0,315.5 190.9,313.9 190.6,313.2 186.8,314.4 186.1,315.2ZM174.3,278.9 177.8,278.6 175.0,278.5ZM158.9,291.2 159.4,291.1 159.8,291.5 159.5,292.7 163.4,293.2 163.7,293.5 163.9,294.8 166.1,295.5 168.3,295.2 170.1,293.2 173.9,292.4 177.5,291.4 176.9,290.3 175.1,289.7 170.0,290.5 169.7,290.1 169.8,289.7 171.0,288.9 168.8,285.8 166.6,284.9ZM169.0,298.8 170.7,298.5 170.3,298.3 168.3,298.5ZM168.9,307.3 169.0,307.0 167.0,307.2 167.0,307.5ZM127.7,423.3 127.5,422.5 126.5,421.8 125.9,422.9 126.2,424.4Z" fill="#f3f3f3" fill-rule="evenodd"/>
<g fill="none" stroke="#ffffff" stroke-opacity="0.8" stroke-width="1.7" stroke-linejoin="round" stroke-linecap="round"><path d="M242.6,282.9 237.1,288.6 231.6,294.5 226.2,300.5 221.0,306.6 224.4,307.1 225.2,310.3 231.2,307.9 232.7,311.6 232.4,316.5 234.9,318.4 232.2,321.7M238.6,337.6 243.6,337.6 249.9,337.6 256.1,337.6 262.4,337.6 268.6,337.6 274.9,337.6 281.1,337.6 287.3,337.6 293.6,337.6 299.8,337.6 300.3,336.5 300.7,338.5 304.1,338.7 306.9,340.2 309.8,340.3M320.8,344.6 320.8,344.7 321.7,345.3M322.2,354.8 322.2,354.8 320.4,356.8 320.0,357.2M337.2,351.3 337.2,351.3 340.7,349.3 341.5,349.0 345.1,349.0 348.8,349.0 350.4,348.1 352.2,346.4 353.6,344.1 356.0,342.0 357.9,342.3 358.9,343.0 357.7,347.0 358.3,348.1 358.4,349.3M231.2,385.4 237.0,384.8 240.8,386.8 244.6,388.9 251.3,388.9 251.7,387.4 255.8,387.4 258.6,390.9 259.1,393.9 261.8,395.6 264.0,393.3 266.5,393.3 267.8,396.5 269.4,400.0 269.7,403.3 274.0,404.5M281.1,437.9 281.3,436.0 282.9,433.4 286.1,433.4 286.2,432.5 284.0,430.0 285.0,430.0 285.2,428.4 289.8,428.4M289.8,428.4 289.0,434.0 289.8,434.0M289.8,428.4 290.0,427.8 292.2,426.4M286.2,440.2 288.1,438.4M288.1,438.4 288.9,436.3 291.2,434.6M288.1,438.4 290.2,439.5 292.0,440.1 291.8,441.3M292.9,442.4 294.6,440.1 297.1,439.8 299.4,437.2 303.5,436.6M296.4,448.0 298.9,448.3 301.2,448.5M302.9,456.3 303.0,453.8 303.8,452.5M316.8,455.3 317.1,457.3 315.4,459.2M333.6,422.9 333.4,425.5 332.6,426.1 333.0,427.5M332.5,446.0 329.4,448.0 327.1,453.5 329.3,455.8 329.1,458.8 334.8,459.9 336.5,462.5 341.3,462.3 340.4,467.2 341.6,470.4 340.2,472.2 341.8,473.6 342.6,476.8M342.6,476.8 342.0,475.4 335.2,475.4 335.1,477.1 336.7,478.6 334.7,478.8 334.6,480.9 336.2,483.5 335.6,488.0 335.0,492.5M335.0,492.5 333.1,491.4 334.6,488.2 327.4,487.3 326.7,485.5 323.9,483.2 321.4,480.7M321.4,480.7 318.8,479.1 315.8,479.1 312.6,476.2M321.4,480.7 321.6,483.2 317.9,487.9 314.2,490.2 313.8,493.7 312.0,494.9 310.0,493.4 308.5,493.1 308.9,490.4M335.0,492.5 327.6,495.4 327.0,498.9 325.1,501.8 328.0,506.5 330.0,509.4 333.9,508.3 334.2,512.3 336.8,512.2M336.8,512.2 339.2,516.7 338.7,519.9 339.2,522.5 338.0,523.4 338.7,525.5 337.7,526.9 339.7,528.4 338.4,531.3M338.4,531.3 336.5,533.8M338.4,531.3 340.2,535.4 341.6,536.9 341.3,539.8 342.9,543.0 344.3,546.8M336.8,512.2 339.9,512.3 344.0,509.1 347.2,508.8 347.4,513.8 349.9,516.6 353.5,517.1 356.6,519.6 359.9,520.5 361.2,527.5 365.7,527.8 366.2,530.7 368.4,533.3 367.8,535.7 367.3,539.0M367.3,539.0 364.7,536.7 358.3,537.6 356.8,545.2M356.8,545.2 353.6,544.5 353.0,546.9 350.5,544.8 347.8,543.9 345.9,546.8 344.3,546.8M344.3,546.8 346.3,550.3 343.3,551.8 344.8,558.8 343.4,561.7 342.1,563.2 342.4,569.1 341.8,572.3 343.8,577.6 345.0,580.2 344.0,583.4 343.5,587.5 344.7,593.6 344.4,597.1 345.1,601.8 346.2,604.4 345.8,605.8 347.7,608.7 348.1,611.0 349.4,613.0 349.1,615.9 349.1,618.7 350.0,622.1 348.3,624.4 350.3,627.8 352.4,628.6 354.0,631.4 358.4,631.4 361.6,632.2M362.2,633.8 364.2,639.5M356.8,545.2 361.4,549.7 367.2,552.7 370.3,554.7 368.5,559.7 371.0,560.0 374.0,560.6 375.1,560.0 377.7,555.0M367.3,539.0 368.2,541.2 368.3,544.8 373.6,545.3 375.2,550.2 377.9,550.3 377.7,555.0M377.7,555.0 379.6,555.0 380.3,558.8 375.9,562.6 372.2,568.5M372.2,568.5 371.8,575.2 372.0,579.3M372.2,568.5 376.3,570.5 377.3,570.4 379.9,572.2 382.1,573.9 384.1,576.0 383.8,578.4M342.6,476.8 346.0,478.0 349.6,475.6 351.3,473.9 349.4,468.4 352.8,469.8 353.1,468.7 357.5,467.2 358.3,465.2M358.3,465.2 356.6,463.1 357.3,460.8 359.5,459.6 358.8,457.6 360.7,456.2M358.3,465.2 360.0,465.7 361.0,468.7 360.4,469.8 360.0,472.7 360.8,475.2 362.9,476.8 366.7,474.6 368.7,474.8M368.7,474.8 366.7,470.7 364.9,468.4 365.4,466.9 367.1,465.2 367.3,463.0M368.7,474.8 370.2,474.9 373.5,473.6M373.5,473.6 375.0,469.8 373.9,467.2 375.2,463.7M373.5,473.6 377.7,473.9 381.0,468.5M505.6,377.8 506.5,379.8 506.7,383.0 507.8,386.0 503.6,387.7 502.0,390.1 498.3,393.0 493.9,394.2 489.8,396.5 489.8,400.6M489.8,399.5 484.3,399.5 479.3,399.5M489.8,400.6 489.7,404.4 485.6,404.4 481.6,404.4 481.4,411.9 478.9,413.2 478.5,418.1 473.8,418.1 469.2,418.1M489.8,400.6 494.4,404.0 499.0,407.4M499.0,407.4 506.3,413.1 513.6,418.8 515.2,420.2 518.6,422.9 518.6,424.8 521.4,424.5M521.4,424.5 524.9,423.2 532.0,417.5 536.1,414.6 540.2,411.7M540.2,411.8 539.1,410.0 536.0,409.2 535.1,407.4 533.5,404.2 534.4,402.9 534.2,401.1 534.4,398.6 534.8,395.7 533.6,391.8M533.6,391.8 532.5,386.5 531.0,385.4 530.9,384.6 528.9,382.9 528.7,380.7 530.1,379.0 530.6,376.6 530.2,373.9 530.6,372.4M533.6,391.8 534.7,388.7 536.3,387.5 537.0,386.6 538.1,385.8 538.2,383.5M540.2,411.8 544.1,413.1 545.5,414.7 547.2,413.6M547.2,413.6 549.7,412.0 554.7,414.8 559.7,417.6 564.7,420.4 569.7,423.2M569.7,423.2 569.7,422.0 572.5,422.0 572.3,416.1M572.3,416.1 571.9,409.1 571.6,402.0 571.1,394.9 570.3,392.6 570.8,390.8 570.3,389.5 571.0,388.3M572.3,416.1 579.6,416.1 586.9,416.1 594.2,416.1 600.6,416.1M547.2,413.6 548.0,418.2 548.9,418.9 549.0,419.9 550.0,420.9 549.5,422.1 548.7,428.0 548.7,431.8 545.5,434.6 544.5,438.4 545.6,439.5 545.6,441.4 547.2,441.5M547.2,441.5 547.0,442.8 546.3,443.0 546.2,444.0 548.0,444.7 548.2,446.6 549.5,451.2 548.1,451.2 547.4,451.4 546.3,451.1 545.7,452.5 547.2,454.2 549.1,458.7M519.8,446.3 520.0,443.8 520.7,442.6 521.1,440.9 521.7,440.2 524.4,439.9 526.9,441.0 527.8,442.1 529.1,442.1 530.3,441.4 533.3,442.9 534.6,442.9 536.0,441.6 537.5,441.7 538.2,441.3 539.6,441.5 541.5,442.3 543.4,440.7 544.0,440.8 545.6,441.4M546.2,444.0 547.2,445.1 547.0,445.6 546.9,446.6 544.8,448.9 544.1,450.7 543.8,452.2 543.3,452.9 542.8,454.9 541.4,456.1 541.1,457.6 540.5,458.8 540.3,460.0 538.6,461.0 537.2,459.7 536.2,459.8 534.7,461.5 534.0,461.6 532.8,464.3 532.2,466.4M517.6,461.7 517.7,457.4 517.6,455.5 518.1,453.7 518.9,452.8 520.1,451.0 519.8,450.2 520.3,449.1 519.7,447.3 519.8,446.3M519.8,446.3 517.9,444.7 517.0,444.7 516.2,445.5M516.2,445.5 515.6,446.4 514.4,446.7 513.9,447.9 513.1,448.3M513.1,448.3 512.7,449.8 514.4,451.7 514.5,453.1 515.0,453.7 514.9,460.4 515.4,462.1M513.3,462.7 512.9,462.0 512.2,460.2 512.0,458.7 512.6,456.1 512.0,455.0 511.7,452.7 511.7,450.6 510.7,449.1 510.9,448.2M510.9,448.2 513.1,448.3M510.9,448.2 509.7,448.0 508.9,448.4 507.8,448.2 503.4,448.4 503.4,450.0 503.7,452.2M503.6,465.5 503.7,464.6 502.7,462.1 503.3,458.8 504.4,456.4 503.7,452.2M503.7,452.2 502.0,451.5 500.8,451.6 500.0,452.3 498.8,451.7 498.4,450.7 497.3,450.1M497.3,450.1 496.2,450.5 495.7,450.9 495.3,449.7 494.6,450.0 494.1,449.9 493.6,450.8 491.7,450.7 491.0,450.3 490.7,450.6M490.7,450.6 490.2,450.8 490.0,451.8 490.6,453.0 491.2,455.3 490.2,455.7 490.0,456.1 490.2,456.7 490.0,457.9 489.6,457.9M489.6,457.9 489.5,458.8 489.7,460.2 489.2,461.5 490.8,462.5 491.8,463.7 491.9,464.8 491.6,465.2 491.4,467.2M489.6,457.9 488.9,457.9 488.4,459.0 487.7,459.0 487.2,458.4 487.4,457.2 486.3,455.4 485.7,455.8 485.1,455.8M485.1,455.8 484.4,456.0 484.0,457.2 482.8,458.8 482.2,460.3M485.1,455.8 484.5,454.9 484.1,454.1 484.2,453.3 483.6,452.1 483.0,451.0 481.0,451.0 480.4,451.6 479.7,451.6 479.2,452.3 479.0,453.1 477.6,454.4M490.7,450.6 489.8,448.5 489.2,448.8 489.3,447.9 489.8,447.1 488.8,445.9 488.5,445.1 488.0,444.4 487.5,444.4 486.9,444.8 486.1,445.2 485.4,445.8 484.3,445.6 483.6,444.8 483.2,444.7 482.6,445.1 482.2,445.1 482.1,444.1M482.1,444.1 480.3,444.0 479.6,444.4 477.8,443.7 476.6,443.6M476.6,443.6 476.5,444.6 476.2,444.9 476.5,445.9 475.5,446.3 474.8,446.8 474.1,446.7 473.0,448.0M476.6,443.6 472.0,443.5 471.3,443.8 470.5,443.8 469.3,444.2M469.2,440.7 471.8,440.6 472.4,439.9 473.2,439.9 474.2,440.6 474.9,440.6 475.8,440.1 476.3,440.9 475.2,441.6 474.1,441.6 473.0,440.9 472.1,441.6 471.6,441.6 471.0,442.1 469.3,442.0M470.0,433.1 470.8,432.3 472.0,432.6 473.2,432.0 474.6,431.9 475.8,432.8 477.4,433.6 478.9,435.7 480.5,437.7M480.5,437.7 480.6,439.5 481.0,441.2 482.0,442.0 482.2,443.2 482.1,444.1M480.5,437.7 481.3,437.2 481.8,435.5 482.6,435.4 484.3,436.2 485.7,435.6 486.7,435.8 487.0,435.2 492.0,435.2 497.0,435.1 497.6,433.1 497.2,432.7 496.6,426.4 496.1,420.1 495.6,413.8 495.0,407.5 499.0,407.4M497.3,450.1 497.8,446.2 499.7,443.8 500.1,441.8 500.8,441.1 502.0,441.4 503.1,440.9 503.4,440.1 505.3,438.8 505.8,437.9 508.1,436.7 509.5,436.3 510.1,436.8 511.7,436.8M511.7,436.8 513.3,436.7 514.3,435.7 517.6,435.4 519.9,434.9 520.0,433.2 521.4,431.2 521.4,424.5M511.7,436.8 511.5,438.2 511.9,439.5 513.3,441.4 513.3,442.9 516.2,443.5 516.2,445.5M549.1,458.7 547.9,461.6 547.3,462.2 547.1,464.4 547.4,465.7 547.2,466.5 548.4,468.0 548.6,469.1 549.5,470.6 550.7,471.5 550.8,472.8 551.1,473.7M551.1,473.7 550.9,475.3 548.9,474.6 546.9,473.8 543.7,473.7M543.7,473.7 543.4,473.5 541.9,473.9 540.4,473.5 539.2,473.7M539.2,473.7 535.6,473.7M539.2,473.7 539.2,477.2 535.5,477.2 535.0,477.3M543.7,473.7 544.2,476.5 546.1,476.2 546.7,476.8 545.6,480.2 546.8,481.9 547.1,484.2 546.8,486.1 546.0,487.5 543.8,487.4 542.4,486.0 542.2,487.3 540.5,487.6 539.7,488.4 540.6,490.3 538.8,491.8M551.1,473.7 552.4,471.0 553.9,469.4 555.6,469.9 557.2,470.1M557.2,470.1 557.0,471.9 556.3,473.4 555.8,475.2 555.5,477.8 555.7,479.5 555.2,480.5 555.2,481.5 554.9,482.5 553.2,483.9 552.1,485.4 551.0,488.2 551.1,490.6 550.4,491.5 548.9,492.9 547.4,494.8 546.5,494.2 546.3,493.4 545.0,493.4 544.1,494.5 543.4,494.2 542.5,493.2 541.8,493.7 540.9,494.8M543.4,494.2 542.5,494.8 542.1,495.6 542.0,496.8 541.7,497.0M541.8,498.0 542.8,497.7 543.5,497.7 544.4,497.4 551.8,497.4 552.4,499.6 553.1,501.3 553.7,502.3 554.6,503.8 556.3,503.6 557.1,503.2 558.5,503.6 558.9,502.8 559.5,501.1 561.1,501.0 561.2,500.5 562.5,500.5 562.3,501.6 565.3,501.5 565.4,503.4 565.8,504.5 565.4,506.2 565.6,508.0 566.4,509.1 566.2,512.6 566.8,512.3 567.9,512.4 569.5,512.0 570.6,512.1M570.6,512.1 570.9,513.0 570.5,514.4 571.0,515.8 570.6,516.9 570.8,517.9 565.5,517.9 565.4,522.5 565.2,527.2 566.8,529.5 568.4,531.4M568.4,531.4 563.8,532.6 557.8,532.1 556.1,530.7 551.1,530.8 546.0,530.9 545.7,531.1 544.2,529.8 542.6,529.7 541.1,530.2 540.2,530.6M568.4,531.4 572.0,530.9 573.0,531.5 573.0,531.8 571.6,532.4 570.8,532.4 569.2,533.6 568.3,532.4 564.4,533.4 562.6,533.5 562.4,538.7 562.2,543.9 559.7,544.0 559.4,552.6M559.4,552.6 559.2,558.0 558.9,563.4 556.7,564.9 555.4,565.1 553.9,564.6 552.8,564.3 552.5,563.1 551.5,562.3 550.6,563.4M559.4,552.6 560.1,553.0 561.4,555.8 561.1,557.6 561.6,558.6 563.3,558.3 564.6,557.0 565.8,556.1 566.5,554.7 567.7,554.0 568.7,554.4 569.8,555.2 571.8,555.4 573.4,554.7 573.7,553.7 574.2,552.4 575.5,552.1 576.3,551.0 577.2,549.1 579.6,546.9 583.1,544.7M583.1,544.7 581.6,543.4 579.8,543.0 579.1,541.1 579.2,540.1 578.1,539.7 575.5,536.5 574.8,534.8 574.3,534.3 573.4,532.0M573.4,532.0 576.2,532.3 577.0,532.6 577.8,532.6 579.3,530.7 581.5,528.3 582.4,528.1 582.8,527.0 584.2,525.9 586.1,525.5M583.1,544.7 584.2,544.8 585.3,545.2 586.2,544.9 587.4,545.2M587.4,545.2 590.2,541.9 591.0,539.8 591.4,539.5 591.7,537.8 591.4,536.9 591.6,534.7 592.2,532.7 592.4,529.0 591.1,528.1 589.9,527.9 589.4,527.1 588.3,526.5 586.2,526.6 586.1,525.5M587.4,545.2 588.4,549.3 588.9,551.4 588.2,554.7 588.4,555.7 588.7,557.0M588.4,555.7 587.2,555.2 586.5,555.4 586.2,556.2 585.4,557.3 585.4,558.3 586.7,560.0 588.2,559.6 588.8,558.3 588.7,557.0M588.8,558.3 590.5,558.3M580.8,564.9 581.6,565.7 580.7,567.1 580.3,568.1 578.9,568.6 578.4,569.5 577.5,569.8 575.8,567.5 577.3,565.7 578.6,564.5 579.8,563.9 580.8,564.9M570.6,512.1 571.5,512.2 571.6,513.1 572.8,513.0 574.4,513.3 575.2,514.6 577.2,515.0 578.7,514.1 579.2,515.6 581.1,516.0 582.0,517.3 583.0,518.9 584.9,518.9 584.8,515.8 584.1,516.3 582.4,515.2 581.7,514.6 582.1,511.7 582.6,508.3 582.1,507.0 582.8,505.1 583.5,504.8 586.9,504.3M586.9,504.3 587.9,504.6 588.9,505.3 589.9,505.8 591.5,506.3 592.9,507.2M592.9,507.2 594.0,508.5 594.6,511.0 594.2,511.7 593.6,514.1 594.0,516.5 593.2,517.5 592.3,520.2 593.6,521.0M593.6,521.0 589.8,522.2 586.0,523.4 586.1,525.5M593.6,521.0 595.0,522.4 595.7,522.1 596.6,522.9 596.7,524.0 596.2,525.4 596.2,527.4 597.8,529.3 598.6,527.2 599.7,526.6 599.7,522.9 598.7,520.8 597.9,519.8 597.0,519.9 596.4,516.1 597.2,513.8M597.2,513.8 596.6,509.9 595.8,508.5 595.3,507.7 592.9,507.2M597.2,513.8 599.1,513.6 602.1,514.4 602.8,514.1 604.5,514.0 605.4,513.1 606.9,513.2 609.7,512.0 611.5,510.6M586.9,504.3 586.6,500.9 585.2,499.3 584.7,497.6 585.0,496.1 584.5,493.4M584.5,493.4 585.6,493.3 586.5,492.2 587.5,490.7 588.1,490.1 588.1,489.1 587.6,488.5 587.4,487.3 588.2,487.0 588.3,485.2 587.3,483.6 588.2,483.2M587.4,487.3 586.1,487.1 585.3,488.8 583.8,488.6M584.5,493.4 584.4,489.9 583.8,488.6 584.0,487.0 584.4,486.8 584.5,485.0 585.2,484.2M585.2,484.2 585.8,484.5 587.3,483.6M588.2,483.2 592.1,483.2 596.1,483.1M585.2,484.2 585.2,482.0 585.8,480.9 586.0,478.6 586.5,477.2 587.4,475.7 588.4,474.9 589.2,473.9 588.2,473.5 588.3,470.1M596.1,483.1 596.5,483.4 601.1,486.4 605.6,489.3 605.8,491.0 609.3,493.9M596.1,483.1 596.1,480.0 596.8,478.8 598.0,476.9 598.9,474.7 597.8,471.4 597.5,469.9 596.3,467.9M588.3,470.1 589.4,469.3 591.0,469.9 593.0,469.3 594.7,469.3 596.3,467.9M596.3,467.9 597.8,466.2 599.5,464.3M599.5,464.3 600.8,464.8 600.8,466.4 601.7,467.3 603.4,467.3 606.6,469.8 607.4,469.9 608.0,469.8 608.6,470.1 610.3,470.3 611.0,469.1 613.3,467.9 614.3,468.9 616.0,468.9M616.0,468.9 613.9,472.2 613.9,477.5 613.9,482.8 615.4,485.1M616.0,468.9 616.7,468.0 618.3,467.9 620.5,465.9 623.8,465.7 630.7,457.0 628.6,457.0 624.4,455.3 620.3,453.6 619.3,452.5 618.3,451.1 617.8,448.5M617.8,448.5 617.2,447.9 615.3,448.1 615.2,447.2 615.0,446.4 615.7,445.1 616.6,443.8M616.6,443.8 618.2,443.4M617.8,448.5 618.6,447.1M616.6,443.8 615.7,442.8 614.6,441.1 613.4,440.2 612.7,439.2 610.5,438.0 608.8,438.0 608.2,437.4 606.7,438.0 605.2,436.7 604.5,438.9 601.6,438.3M601.6,438.3 601.2,437.1 602.1,432.8 602.3,430.9 603.0,430.0 604.8,429.5 606.0,427.9M601.6,438.3 601.3,440.8 600.4,443.7 598.9,445.1 597.9,447.3 597.7,448.5 596.5,449.3 595.9,452.4M595.9,452.4 596.0,455.0 595.6,455.9 594.3,456.0 593.5,457.7 595.0,457.9 596.3,459.3 596.8,460.4 597.9,461.1 599.5,464.3M595.9,452.4 595.5,451.2 595.2,450.2 593.9,449.1 593.5,447.0 593.8,444.8 592.6,444.6 592.5,445.3 590.9,445.4 591.6,446.3 591.8,448.0 590.5,449.6 589.3,451.7 588.0,452.0 585.9,450.3 585.0,451.0 584.7,451.8 583.4,452.3 583.4,452.9 580.9,452.9 580.5,452.3 578.7,452.2 577.8,452.7 577.1,452.5 575.8,450.8 575.4,450.0 573.6,450.4 572.9,451.7 572.3,454.3 571.4,454.9 570.7,455.2M570.7,455.2 570.5,455.1 569.6,454.2 569.4,453.3 569.8,452.1 569.8,450.9 568.3,449.1 568.0,447.9M568.0,447.9 568.0,447.2 567.1,446.3 567.0,444.6 566.5,443.5 565.6,443.6 565.8,442.6 566.4,441.4 566.1,440.1 566.9,439.3 566.4,438.6 567.0,436.8 568.1,434.6 570.2,434.8 570.0,429.0 569.7,423.2M568.0,447.9 566.4,448.4 565.2,449.5 563.4,452.7 561.1,454.1 558.6,453.9 557.9,454.2 558.2,455.2 556.9,456.2 555.9,457.3 552.7,458.4 552.1,457.8 551.7,457.7 551.2,458.5 549.1,458.7M570.7,455.2 572.4,456.3 573.8,457.5 573.8,458.5 575.6,460.0 576.6,461.2 577.3,463.0 579.2,464.1 579.6,465.1M579.6,465.1 578.7,465.4 577.1,465.3 575.2,465.0 574.3,465.3 574.0,466.0 573.1,466.0 572.1,465.4 569.4,466.9 568.2,466.6 567.9,466.8 567.1,468.6 565.2,468.0 563.4,467.7 561.8,466.6 559.7,465.7 558.4,466.6 557.4,468.1 557.2,470.1M579.6,465.1 581.1,467.5 582.3,467.8 582.9,467.3 584.1,467.5 585.5,466.9 586.1,468.2 588.3,470.1M593.0,389.1 595.0,394.2M490.9,357.3 492.4,358.3 493.7,358.3 494.1,357.9 495.5,358.0 496.1,359.5 495.0,360.2 494.9,362.5 494.5,362.9 494.4,364.3 493.4,364.5 494.3,366.3 493.6,368.2 494.4,369.1 494.0,369.9 493.1,371.0 493.3,371.8M506.6,353.8 507.4,354.7 511.6,356.0 512.4,355.3 515.0,356.7 517.7,356.3M527.8,352.4 528.0,351.5 526.7,351.2 526.1,348.9 526.9,348.1 526.2,347.0 526.2,346.2M526.2,346.2 525.4,344.9 524.4,345.4 524.4,344.1 526.0,342.5 525.9,341.7 526.9,342.0 527.5,341.5M526.2,346.2 527.2,346.8 528.5,346.7 529.5,345.7 529.9,346.1 531.0,346.7 531.4,344.9 533.1,345.3 534.1,344.8 534.2,343.6M534.2,343.6 533.1,343.5 532.0,343.0 532.4,342.3 532.2,341.8M527.5,341.5 529.4,341.5 529.8,340.9 532.2,341.8M527.5,341.5 527.7,339.5 528.8,337.5 525.6,337.0 524.5,336.3M523.8,336.4 523.3,336.1 521.4,334.8 520.3,335.0 518.7,333.7 517.6,332.6 516.6,332.5 516.4,331.9M518.5,331.1 519.7,331.2 521.7,330.6 523.1,331.9 524.3,332.5M524.3,332.5 524.1,334.4M524.1,334.4 524.6,335.1 524.5,336.3M524.1,334.4 523.5,334.5 523.3,336.1M524.3,332.5 523.9,329.6 525.2,329.6 525.7,328.5 526.1,326.0 525.9,325.4M529.4,321.2 531.0,321.3M541.2,324.3 541.8,325.7 541.2,326.4 542.1,327.4 542.8,328.9 542.7,329.9 543.7,331.7 542.7,332.0M542.7,332.0 542.1,331.6 541.6,332.2 540.1,332.7 539.3,333.4 537.7,334.0 538.2,334.9 538.5,336.0 539.6,336.7 541.0,337.9 541.5,338.3M541.5,338.3 540.3,339.2 539.5,339.6 539.9,341.5 539.7,341.9 539.0,341.4 537.9,341.3 536.4,341.8 534.4,341.7 534.1,342.4 532.9,341.6 532.2,341.8M543.7,331.7 544.8,332.6 546.4,332.8 546.4,333.6 547.6,334.2 547.9,333.5 549.4,333.8 549.7,334.6 551.3,334.8 552.5,336.2M552.5,336.2 552.6,336.4 553.5,336.0 554.7,337.0 556.0,336.4 557.0,336.7 558.6,336.3 560.8,337.3M560.8,337.3 561.3,337.5 560.6,336.2 562.4,333.9 563.4,333.6 563.5,332.8 562.2,330.3M562.2,330.3 562.0,329.1 561.2,327.8 562.4,327.3 562.3,326.1 561.6,325.1 561.3,323.9M561.3,323.9 560.7,323.0 559.6,322.7M559.6,322.7 555.6,322.8 552.9,322.4M541.5,338.3 542.7,338.8 543.8,337.7 544.6,337.5 546.4,338.4 547.4,338.2 548.5,338.7M548.5,338.7 548.8,338.1 549.8,338.2 550.5,337.9 550.5,337.6 550.9,337.5 551.0,336.8 551.5,336.7 551.8,336.2 552.5,336.2M548.5,338.7 548.3,339.1 548.6,340.1 549.8,340.8M549.8,340.8 548.5,341.3 547.3,341.3 547.8,341.9 547.2,343.7M547.2,343.7 546.8,344.2 544.8,344.3 543.7,344.9 541.8,344.7M541.8,344.7 538.6,343.9 538.0,342.9 535.8,343.5 535.6,344.0 534.2,343.6M541.8,344.7 541.7,346.1 542.3,347.3 541.9,347.6M541.8,347.6 543.4,347.7 543.8,347.2 544.6,347.7 545.5,347.7 545.4,346.9 546.2,346.6 546.3,345.5 548.0,344.7 547.5,343.7 547.2,343.7M549.8,340.8 550.7,341.1 552.5,340.8 552.7,340.2 554.6,339.7 554.8,339.9 555.9,339.5 556.3,338.8 557.0,338.7 559.5,339.5 559.9,339.2M559.9,339.2 561.2,340.0 561.5,340.8M561.5,340.8 560.2,341.4 559.3,343.3 558.1,345.2 556.4,345.8M556.4,345.8 554.9,345.7 553.3,346.4M553.3,346.4 552.5,346.8 550.6,346.3 548.8,345.1 548.0,344.7M546.9,348.4 546.5,349.5 547.7,350.9 548.3,351.8 549.4,352.8 550.3,353.5 551.2,354.7 553.4,355.8M546.9,348.4 547.8,349.0 548.2,348.4 549.3,348.4 551.3,348.8 552.8,348.8 553.9,349.4M553.9,349.4 554.6,348.3 553.9,347.5 553.3,346.4M553.9,349.4 554.7,349.4 554.3,350.7 555.4,351.8 555.2,353.1 554.7,353.3M554.7,353.3 553.6,354.2 553.4,355.8M556.4,345.8 557.7,346.9 558.0,347.8 559.4,348.5 559.7,349.7 561.1,350.5 561.8,349.9 562.4,350.2 561.9,350.7 562.4,351.2M562.4,351.2 561.8,351.9 562.1,352.9 563.4,354.2 562.6,355.1 562.3,356.0 562.2,356.7M562.2,356.7 561.1,356.8 560.4,356.9M554.7,353.3 555.3,353.8 555.7,354.2 556.5,354.5 557.4,355.1 557.2,355.3 556.8,356.0M556.8,356.0 556.2,356.2 556.0,355.7 555.1,357.1 555.3,357.9M556.8,356.0 557.4,356.7 557.9,357.0 558.2,358.1 558.0,359.1 558.4,360.3 559.4,361.0M559.4,361.0 559.4,361.8 558.7,362.2 558.6,363.1 557.8,364.4M558.2,358.1 558.5,358.1 558.5,357.5 559.9,357.1 560.4,356.9M557.2,355.3 557.7,355.1 558.0,354.1 558.4,354.0 558.7,354.4 559.2,354.6 559.5,355.0 559.9,355.2 560.4,355.7 560.7,355.7 560.5,356.4 560.3,356.7 560.4,356.9M559.4,361.0 560.9,360.8 561.7,360.1 563.0,360.2 563.3,359.7 563.7,359.6M563.7,359.6 563.4,357.7 562.2,356.7M563.7,359.6 565.5,359.7 567.2,358.9 569.0,359.9 571.0,359.6 571.5,358.5M571.5,358.5 572.2,359.5 571.6,360.7 571.2,361.4M571.5,358.5 571.9,358.0 573.2,357.3 574.7,357.6M562.4,351.2 564.0,352.2 565.8,352.6 569.1,352.8 570.2,352.1 572.8,351.4 574.6,352.4 575.7,352.7M561.5,340.8 562.4,340.2 566.3,341.2 567.1,340.8 568.7,340.5 570.1,339.8M570.1,339.8 570.8,340.1 571.6,340.9 572.4,342.1 573.9,343.8 574.2,345.1 574.1,346.3 574.6,347.6M574.6,347.6 575.7,348.1 576.7,347.7 577.8,348.2 577.8,348.2M570.1,339.8 570.6,339.4 572.0,339.1 573.8,340.0 574.7,340.1 575.8,340.9 575.8,341.8 576.6,342.3 577.1,343.5 578.0,344.2 577.9,344.6 578.3,344.9 577.8,345.1 576.4,345.1 576.2,344.7 575.7,344.9 575.9,345.4 575.4,346.3 575.2,347.3 574.6,347.6M560.8,337.3 560.2,338.1 559.9,339.2M562.2,330.3 563.2,330.2 564.3,329.5 566.0,329.4 568.2,329.6 570.7,330.3 572.5,330.4 573.3,330.8 574.1,330.3 574.7,330.9 576.7,330.8 577.6,331.1 577.6,329.7 578.1,329.1 580.0,328.9M580.0,328.9 580.8,329.0 581.2,328.4 581.9,328.5 584.1,328.2 585.8,329.8 585.3,330.4 585.7,331.2 587.4,331.4 588.4,332.6 588.5,333.1 591.4,334.1 593.0,333.7 594.6,335.0 595.9,335.0 599.3,335.9 599.5,336.7 598.9,338.2 599.7,339.8 599.5,340.7 597.3,340.9 596.3,341.7 596.5,343.0M580.0,328.9 579.2,327.1 578.5,326.2 578.9,325.9 580.6,326.0 581.4,325.4 580.6,324.7 579.1,324.2 579.2,323.7 578.2,323.2 576.6,321.4 576.9,320.7 576.5,319.4 574.3,318.7 573.2,319.0 572.8,318.4 570.5,317.7M570.5,317.7 569.8,317.7 567.1,319.2M567.1,319.2 567.5,320.4 565.9,321.3 565.6,322.9 563.4,323.9 561.3,323.9M567.1,319.2 564.9,317.9 563.8,317.7 563.4,317.1 561.4,317.4 557.8,317.2 555.6,318.0M559.6,322.7 559.3,322.0 559.4,321.3 558.5,320.8 556.2,320.4M570.5,317.7 569.6,316.1 569.2,314.8 568.1,314.1M568.1,314.1 566.3,314.1 564.4,313.1 563.4,312.8 562.0,313.2M568.1,314.1 568.9,313.3 567.8,310.8 569.1,309.2 568.7,308.8M568.3,305.6 570.0,304.2 571.8,302.9 573.8,301.2 574.3,299.8 571.0,298.1 571.5,296.4 569.3,294.5 570.2,292.3 567.4,289.4 568.8,287.5 565.5,285.9 565.4,284.1M565.4,284.1 565.9,282.4 563.2,281.4 560.5,282.2 559.9,284.1 558.2,285.1 556.1,284.5 553.6,284.7 551.3,283.4 550.2,284.0M550.2,284.0 553.0,285.2 556.2,286.9 556.9,290.8 557.7,291.8 558.1,292.2M550.2,284.0 549.1,284.1 549.0,285.7 545.3,285.3 545.0,286.7 543.1,286.7 542.1,288.5 540.4,291.3 537.7,294.9 538.5,295.7 537.9,296.8 535.9,296.7 534.8,299.2 535.2,302.6 536.6,304.0 536.1,307.1 534.5,308.9 534.1,309.7M565.4,284.1 566.9,283.9 567.9,283.0 568.6,282.7M495.3,320.7 494.6,321.6 493.3,322.4 494.5,323.2 495.8,322.5 496.6,323.5 497.4,323.3M602.2,353.3 602.3,353.2 604.3,353.7 607.7,354.1 611.1,355.5 611.6,356.1 612.9,355.6 615.1,356.2 616.0,357.4 617.6,358.1M617.6,358.1 617.1,358.5 618.5,360.0 618.2,360.4 616.9,360.2 615.1,359.4 614.6,359.8M614.6,359.8 611.4,360.3M611.4,360.3 609.0,358.9 606.8,359.0M611.4,360.3 612.0,361.3 612.0,362.7 613.8,363.4 614.9,364.3M614.6,359.8 615.2,360.6 616.2,361.1 615.8,361.8 617.2,362.8 616.7,363.8 617.8,364.5 618.9,365.0 619.3,367.0 618.5,367.1M614.9,364.3 615.4,364.2 616.2,365.0 617.2,365.0 617.3,365.4 618.5,367.1 616.8,366.8 615.4,365.4 614.9,364.3M617.6,358.1 618.3,358.2 620.1,359.9 621.2,360.1 621.5,359.4 622.6,358.2M619.3,367.0 621.7,364.9 622.5,364.7 623.4,365.5 622.8,367.0 624.5,368.5 624.8,368.4M596.1,375.7 596.7,375.0 597.3,374.4 597.2,372.7 598.0,373.3 600.5,372.5 601.8,373.1 603.8,373.0 606.3,371.9 610.2,371.5M610.2,371.5 611.2,371.1 614.0,371.4 614.9,372.2 615.9,371.7M615.9,371.7 614.3,369.4 614.6,368.5 613.4,365.1 614.9,364.3M610.2,371.5 609.3,373.3 608.1,374.1 608.6,376.2 608.1,379.7 603.2,382.8M603.2,382.8 598.8,385.9 596.1,384.8M596.1,383.1 596.6,381.5 597.7,380.4 597.2,379.3 596.2,379.1M594.7,383.6 595.3,383.6 595.5,383.1 596.1,383.1 596.1,384.8M596.1,384.8 595.8,385.7 595.9,387.5 595.7,388.3 595.8,389.5 595.0,394.2M603.2,382.8 604.6,386.4M604.6,386.4 604.1,386.8 599.5,388.3 602.2,391.2 601.4,391.7 601.1,392.7 599.3,393.1 598.8,394.1 597.9,395.0 595.2,394.6M604.6,386.4 607.5,387.2 611.3,389.2 618.7,395.1 623.3,395.3M623.3,395.3 624.7,392.5 626.3,392.8M623.3,395.3 625.4,395.6 626.2,397.0 627.6,397.0M615.9,371.7 618.0,375.2 619.6,376.1 620.0,377.8 619.0,378.8 618.8,381.1 620.8,383.8 623.9,385.5 625.4,387.7 625.3,389.8 626.0,389.8 626.3,391.4 627.6,392.7M617.1,432.7 618.1,431.7 617.8,430.5 618.4,429.1 619.4,429.8 620.1,429.6 623.0,429.5 623.4,429.8 625.8,430.1 626.8,429.9 627.5,430.9 628.6,430.4 630.1,427.3 632.4,426.0 639.4,424.9M639.4,424.9 646.6,422.0 647.7,416.1M639.4,424.9 642.6,431.7M647.7,416.1 646.3,414.1 639.8,413.4 638.4,413.2 637.1,410.3 637.0,409.6M647.7,416.1 647.8,409.9 647.3,409.5 648.5,407.6M634.9,408.1 635.7,408.6 636.3,408.5M637.5,371.6 639.4,371.1 640.7,369.4 642.3,369.5 643.3,368.9 645.0,369.2 647.8,370.7 649.8,371.0 653.0,373.6 654.7,373.7 655.4,376.2M655.4,376.2 655.1,379.8 654.8,381.9 655.9,382.4 655.2,384.0 656.4,386.3 656.8,388.2 658.7,388.7 659.2,390.5 657.5,393.2M657.5,393.2 658.9,394.8 660.1,396.5 662.6,397.8 663.1,400.4 664.3,400.8 664.7,402.2 661.4,403.7 661.0,406.9M657.5,393.2 661.7,394.7 664.1,394.3 665.6,394.6 666.0,394.0 667.7,394.3 670.6,393.0 670.3,390.5 671.4,388.9 673.1,388.9 673.2,388.1 675.0,387.7 676.0,388.0 676.7,387.1 676.3,385.4 676.9,383.6 678.3,382.9 677.0,380.9 679.3,381.0 679.7,380.0 679.4,378.8 680.3,377.6 679.7,376.2 678.9,374.9 680.0,373.6 682.3,373.0 685.0,372.7 686.0,372.1M686.0,372.1 686.7,371.0 684.3,371.0 682.6,370.7 681.5,372.1 680.5,372.4 679.8,373.0 678.7,372.0 678.3,369.6 677.6,369.4 677.6,368.5 676.2,367.9 675.4,368.9 675.4,370.0 675.2,370.5 673.8,370.4 673.3,371.8 672.4,371.2 670.9,372.1 670.1,371.8M670.1,371.8 666.9,371.2M666.9,371.2 666.2,371.1 664.9,370.3 664.7,371.3 662.9,371.9 662.9,374.2 661.7,375.1 660.0,375.5 659.7,376.9 658.0,377.3 655.4,376.2M666.9,371.2 666.6,369.4 663.2,368.1 660.4,366.7 658.6,365.3 655.5,363.3 653.7,360.3 652.8,359.8 650.4,359.9 649.3,359.3 648.6,357.0 645.2,355.5 643.6,357.2 641.8,358.2 642.5,359.6 639.9,359.7M639.9,359.7 638.8,359.8 636.7,357.5 635.0,356.7 632.5,357.3 632.1,357.8M639.9,359.7 638.8,354.3 637.5,349.0 643.0,347.3 643.5,347.6 647.5,349.6 649.6,350.7 652.4,353.3 655.0,352.9 658.8,352.7 662.1,354.8 662.6,357.7 663.8,357.7 664.8,360.1 667.8,360.2 668.7,361.5 669.6,361.5 670.1,359.5 672.6,357.4 673.8,356.9M673.8,356.9 674.0,355.6 675.4,355.2 679.4,356.2 679.3,354.5 680.4,353.9 684.0,355.1 684.8,354.8 688.6,354.9 692.1,355.2 693.5,356.2 695.1,356.6M695.1,356.6 695.0,357.3 691.8,358.9 691.3,360.0 688.4,360.4 688.1,362.2 685.5,361.8 684.1,362.4 682.2,363.8 682.7,364.5 682.2,365.1M682.2,365.1 683.5,367.8 684.2,367.5 685.7,368.2 685.9,369.3 686.7,371.0M682.2,365.1 677.9,365.6 674.8,364.6 672.3,364.8 672.2,363.2 674.8,363.6 675.4,362.8M673.8,356.9 673.5,359.1 675.1,360.2 676.6,359.4 679.7,360.9 677.2,363.0 675.4,362.8M675.4,362.8 674.5,362.8 674.0,362.0 674.1,360.7 671.2,361.3 670.9,363.2 670.2,364.8 668.2,364.7 667.9,366.0 669.8,366.7 670.8,368.8 670.1,371.8M620.9,344.4 619.9,343.1 618.1,341.2 616.5,341.2 614.2,339.3 615.0,337.2 614.2,336.6 615.3,333.5 618.0,335.1 617.8,333.1 621.6,330.0 625.0,330.0 630.3,331.9 633.2,333.0 635.2,331.9 638.6,331.8 641.8,333.2 642.2,332.4 645.4,332.5 645.5,331.2 641.4,329.3 643.1,327.9 642.5,327.2 644.3,326.4 642.2,324.6 642.9,323.6 646.7,323.1 650.6,322.7 651.4,322.0 656.4,321.0 657.9,319.8 662.0,320.4 663.7,323.3 665.7,322.6 668.8,323.5 669.2,325.0 671.2,324.9 675.6,322.3 675.1,323.1 678.7,325.3 686.3,332.4 686.9,330.9 690.6,332.5 693.4,331.8 694.8,332.3 696.5,333.9 698.3,334.4 699.7,335.7 702.4,335.3 704.3,337.0M704.3,337.0 703.3,338.9 701.6,339.1 702.5,342.0 701.8,343.3 697.0,342.3 697.1,347.5 696.2,348.1 692.1,349.2 695.7,354.3 694.4,355.0 695.1,356.6M704.3,337.0 705.0,336.8 707.2,336.3 710.4,333.9 713.1,332.5 715.4,333.4 717.7,333.4 719.8,334.8 722.0,334.8 725.5,335.5 726.8,333.6 725.1,331.9 726.0,329.0 729.0,330.2 731.2,330.5 734.1,331.2 735.5,333.3 739.2,334.5 741.0,334.0 743.6,333.6 746.0,334.0 748.9,335.4 750.9,336.8 753.0,336.8 756.0,337.2 757.7,336.5 760.3,336.1 762.5,334.1 764.0,334.4 765.7,335.3 768.2,335.1M705.0,336.8 706.4,338.7 708.9,340.2 712.5,341.3 714.9,343.6 715.3,346.9 716.6,348.2 719.5,348.7 722.7,349.1 726.1,350.9 727.6,351.2 729.6,353.8 731.6,355.6 734.1,355.5 739.1,356.2 742.0,355.8 744.4,356.2 748.5,357.9 751.3,357.9 752.6,358.8 754.7,357.3 758.0,356.3 761.4,356.2 763.7,355.1 764.7,353.6 765.8,352.6 765.1,351.7 763.8,350.6 764.2,348.7 765.6,349.0 768.2,349.6 769.7,348.0 772.7,346.9 773.4,345.0 774.6,344.2 777.6,343.8 779.6,344.2 779.3,343.1 776.2,341.1 774.0,340.2 772.8,341.3 770.4,340.9 769.3,341.2 768.1,340.0 768.2,337.2 768.2,335.1M768.2,335.1 771.4,336.2 773.5,334.4 772.8,333.1 773.1,330.2 773.8,329.3 772.8,327.7 771.3,327.1 772.2,325.7 774.6,325.2 777.4,325.1 781.2,325.9 783.7,327.0 786.8,329.8 788.3,331.0 790.2,332.7 792.6,335.5 797.0,336.4 800.8,338.4 803.2,341.0 806.6,341.0 807.9,339.9 811.1,339.1 811.4,341.6 811.2,342.7 812.2,345.8 812.2,348.6 809.2,348.1 807.8,349.1 809.7,351.6 811.1,355.0 809.9,355.1 810.7,356.5M810.7,356.5 808.3,354.8 808.3,356.4 805.3,357.7 806.4,359.2 804.3,359.1 802.8,358.2 802.2,360.2 800.3,361.8 799.4,363.4M806.4,369.9 807.6,369.9 807.9,368.5 809.5,368.4 810.1,367.8M677.8,411.2 679.2,409.2 684.5,409.2 683.7,406.7 682.1,405.2 681.5,403.0 679.7,401.7 681.9,398.6 684.7,398.8 686.7,395.7 687.7,392.8 689.5,389.8 689.0,387.7 690.7,386.0 688.5,384.6M686.0,372.1 687.3,371.8 689.4,373.2 690.6,375.4 694.8,376.6M694.8,376.6 698.1,380.0 698.4,382.4 699.7,383.9 700.0,385.4 698.2,385.0 699.5,388.2 702.3,390.1 706.0,392.2M706.0,392.2 706.9,391.5 709.0,392.3 711.8,394.3 713.3,394.7 714.4,396.1 716.4,396.7 718.6,398.0 721.5,398.7 724.3,398.9M706.0,392.2 704.8,393.5 704.4,396.2 706.9,397.3 709.5,398.8 713.0,400.4 716.4,400.8 718.0,402.3 720.0,402.6 723.0,403.3 725.0,403.2 725.1,402.1 724.3,398.9M724.3,398.9 725.7,398.3 726.4,400.6M726.4,400.6 727.5,398.4 728.7,397.7 730.6,398.4 731.8,398.4 733.1,399.2 734.3,400.2 734.5,402.0 732.5,402.1 730.4,401.8 729.0,402.3 726.5,401.2 726.4,400.6M733.1,399.2 734.9,398.9 736.7,396.7 739.0,394.8 741.2,395.5 742.7,394.3 744.2,396.1 743.7,397.4 746.4,397.8M746.4,397.8 746.8,398.9 746.1,399.4 746.7,401.3 744.9,400.7 742.1,402.8 742.6,404.4 741.7,406.9 741.8,408.3 741.2,410.7 739.2,410.1 739.6,413.1 739.3,414.1 739.7,415.3 738.6,416.0M738.6,416.0 736.5,411.4 735.9,411.4 735.8,413.2 734.2,411.7 734.7,410.1 735.7,409.9 736.4,407.4 734.9,406.9 732.6,407.0 730.2,406.6 729.6,404.5 728.4,404.4 726.2,403.1 725.8,405.1 727.8,406.7 726.5,407.7 726.1,408.8 727.8,409.6 727.7,411.4 728.9,413.6 729.7,416.0M738.6,416.0 738.9,418.1 738.0,417.7 738.4,419.2M746.4,397.8 747.8,397.6 749.0,399.3 750.2,400.0 750.7,402.3 751.2,404.7 749.4,407.1 749.7,410.6 752.3,410.1 753.4,412.8 755.0,413.4 754.7,415.8 756.8,416.9 757.9,417.4 759.6,416.6M759.6,416.6 759.9,417.8 761.5,418.6 760.6,415.2 761.8,414.8M761.8,414.8 762.9,414.1 764.8,414.1 767.2,413.7 769.0,412.2 770.4,413.3 772.8,413.8 772.7,415.5 774.1,416.7 776.7,417.5M759.9,417.8 758.1,419.7 757.8,420.8M757.8,420.8 756.4,421.4 755.2,422.7 753.5,422.8 752.9,426.0 751.9,426.5 753.5,429.1 755.3,431.2 756.6,433.2 756.0,435.7 755.2,436.3 756.0,437.7 757.9,440.0 758.4,441.6 758.5,443.0 759.7,445.7 758.6,448.4 757.7,451.0M757.8,420.8 759.0,421.7 759.4,423.4 761.1,423.6 761.0,426.6 761.4,429.3 763.8,427.5 764.6,428.0 766.0,428.0 766.4,426.9 768.3,427.1 770.5,429.5 771.1,432.4 773.4,434.9 773.6,437.4 773.0,438.7M773.0,438.7 770.6,438.3 767.5,438.8 766.1,441.3 767.1,444.8M761.8,414.8 763.6,417.1 765.2,419.7 768.2,419.8 769.6,422.3 768.2,423.1 767.7,424.1 770.9,425.9 773.5,429.3 775.4,431.9 777.6,433.9 778.5,436.0 778.4,438.9M778.4,438.9 776.1,437.9 775.2,439.9 773.0,438.7M778.4,438.9 779.2,440.9 779.3,444.4 775.3,446.6 776.6,448.4 774.0,448.6 772.1,449.7M762.2,461.3 762.5,461.0 764.6,462.3 764.9,463.7 766.5,463.4 767.3,462.2M786.6,474.5 787.1,476.4 788.8,478.1 790.4,477.4 792.1,477.7 793.5,476.2 794.7,475.9 797.1,476.7 799.1,476.1 800.3,472.1 801.3,471.1 802.1,467.8 804.9,467.8 806.9,468.2M797.9,467.3 799.0,468.6 799.5,467.6 800.7,467.7 800.8,465.9M865.4,488.0 865.2,494.2 864.7,500.5 864.2,506.6M824.0,506.2 824.2,507.6"/></g>
<g fill="none" stroke="#7c7c7c" stroke-width="0.7" stroke-linejoin="round" stroke-linecap="round"><path d="M242.6,282.9 237.1,288.6 231.6,294.5 226.2,300.5 221.0,306.6 224.4,307.1 225.2,310.3 231.2,307.9 232.7,311.6 232.4,316.5 234.9,318.4 232.2,321.7M238.6,337.6 243.6,337.6 249.9,337.6 256.1,337.6 262.4,337.6 268.6,337.6 274.9,337.6 281.1,337.6 287.3,337.6 293.6,337.6 299.8,337.6 300.3,336.5 300.7,338.5 304.1,338.7 306.9,340.2 309.8,340.3M320.8,344.6 320.8,344.7 321.7,345.3M322.2,354.8 322.2,354.8 320.4,356.8 320.0,357.2M337.2,351.3 337.2,351.3 340.7,349.3 341.5,349.0 345.1,349.0 348.8,349.0 350.4,348.1 352.2,346.4 353.6,344.1 356.0,342.0 357.9,342.3 358.9,343.0 357.7,347.0 358.3,348.1 358.4,349.3M231.2,385.4 237.0,384.8 240.8,386.8 244.6,388.9 251.3,388.9 251.7,387.4 255.8,387.4 258.6,390.9 259.1,393.9 261.8,395.6 264.0,393.3 266.5,393.3 267.8,396.5 269.4,400.0 269.7,403.3 274.0,404.5M281.1,437.9 281.3,436.0 282.9,433.4 286.1,433.4 286.2,432.5 284.0,430.0 285.0,430.0 285.2,428.4 289.8,428.4M289.8,428.4 289.0,434.0 289.8,434.0M289.8,428.4 290.0,427.8 292.2,426.4M286.2,440.2 288.1,438.4M288.1,438.4 288.9,436.3 291.2,434.6M288.1,438.4 290.2,439.5 292.0,440.1 291.8,441.3M292.9,442.4 294.6,440.1 297.1,439.8 299.4,437.2 303.5,436.6M296.4,448.0 298.9,448.3 301.2,448.5M302.9,456.3 303.0,453.8 303.8,452.5M316.8,455.3 317.1,457.3 315.4,459.2M333.6,422.9 333.4,425.5 332.6,426.1 333.0,427.5M332.5,446.0 329.4,448.0 327.1,453.5 329.3,455.8 329.1,458.8 334.8,459.9 336.5,462.5 341.3,462.3 340.4,467.2 341.6,470.4 340.2,472.2 341.8,473.6 342.6,476.8M342.6,476.8 342.0,475.4 335.2,475.4 335.1,477.1 336.7,478.6 334.7,478.8 334.6,480.9 336.2,483.5 335.6,488.0 335.0,492.5M335.0,492.5 333.1,491.4 334.6,488.2 327.4,487.3 326.7,485.5 323.9,483.2 321.4,480.7M321.4,480.7 318.8,479.1 315.8,479.1 312.6,476.2M321.4,480.7 321.6,483.2 317.9,487.9 314.2,490.2 313.8,493.7 312.0,494.9 310.0,493.4 308.5,493.1 308.9,490.4M335.0,492.5 327.6,495.4 327.0,498.9 325.1,501.8 328.0,506.5 330.0,509.4 333.9,508.3 334.2,512.3 336.8,512.2M336.8,512.2 339.2,516.7 338.7,519.9 339.2,522.5 338.0,523.4 338.7,525.5 337.7,526.9 339.7,528.4 338.4,531.3M338.4,531.3 336.5,533.8M338.4,531.3 340.2,535.4 341.6,536.9 341.3,539.8 342.9,543.0 344.3,546.8M336.8,512.2 339.9,512.3 344.0,509.1 347.2,508.8 347.4,513.8 349.9,516.6 353.5,517.1 356.6,519.6 359.9,520.5 361.2,527.5 365.7,527.8 366.2,530.7 368.4,533.3 367.8,535.7 367.3,539.0M367.3,539.0 364.7,536.7 358.3,537.6 356.8,545.2M356.8,545.2 353.6,544.5 353.0,546.9 350.5,544.8 347.8,543.9 345.9,546.8 344.3,546.8M344.3,546.8 346.3,550.3 343.3,551.8 344.8,558.8 343.4,561.7 342.1,563.2 342.4,569.1 341.8,572.3 343.8,577.6 345.0,580.2 344.0,583.4 343.5,587.5 344.7,593.6 344.4,597.1 345.1,601.8 346.2,604.4 345.8,605.8 347.7,608.7 348.1,611.0 349.4,613.0 349.1,615.9 349.1,618.7 350.0,622.1 348.3,624.4 350.3,627.8 352.4,628.6 354.0,631.4 358.4,631.4 361.6,632.2M362.2,633.8 364.2,639.5M356.8,545.2 361.4,549.7 367.2,552.7 370.3,554.7 368.5,559.7 371.0,560.0 374.0,560.6 375.1,560.0 377.7,555.0M367.3,539.0 368.2,541.2 368.3,544.8 373.6,545.3 375.2,550.2 377.9,550.3 377.7,555.0M377.7,555.0 379.6,555.0 380.3,558.8 375.9,562.6 372.2,568.5M372.2,568.5 371.8,575.2 372.0,579.3M372.2,568.5 376.3,570.5 377.3,570.4 379.9,572.2 382.1,573.9 384.1,576.0 383.8,578.4M342.6,476.8 346.0,478.0 349.6,475.6 351.3,473.9 349.4,468.4 352.8,469.8 353.1,468.7 357.5,467.2 358.3,465.2M358.3,465.2 356.6,463.1 357.3,460.8 359.5,459.6 358.8,457.6 360.7,456.2M358.3,465.2 360.0,465.7 361.0,468.7 360.4,469.8 360.0,472.7 360.8,475.2 362.9,476.8 366.7,474.6 368.7,474.8M368.7,474.8 366.7,470.7 364.9,468.4 365.4,466.9 367.1,465.2 367.3,463.0M368.7,474.8 370.2,474.9 373.5,473.6M373.5,473.6 375.0,469.8 373.9,467.2 375.2,463.7M373.5,473.6 377.7,473.9 381.0,468.5M505.6,377.8 506.5,379.8 506.7,383.0 507.8,386.0 503.6,387.7 502.0,390.1 498.3,393.0 493.9,394.2 489.8,396.5 489.8,400.6M489.8,399.5 484.3,399.5 479.3,399.5M489.8,400.6 489.7,404.4 485.6,404.4 481.6,404.4 481.4,411.9 478.9,413.2 478.5,418.1 473.8,418.1 469.2,418.1M489.8,400.6 494.4,404.0 499.0,407.4M499.0,407.4 506.3,413.1 513.6,418.8 515.2,420.2 518.6,422.9 518.6,424.8 521.4,424.5M521.4,424.5 524.9,423.2 532.0,417.5 536.1,414.6 540.2,411.7M540.2,411.8 539.1,410.0 536.0,409.2 535.1,407.4 533.5,404.2 534.4,402.9 534.2,401.1 534.4,398.6 534.8,395.7 533.6,391.8M533.6,391.8 532.5,386.5 531.0,385.4 530.9,384.6 528.9,382.9 528.7,380.7 530.1,379.0 530.6,376.6 530.2,373.9 530.6,372.4M533.6,391.8 534.7,388.7 536.3,387.5 537.0,386.6 538.1,385.8 538.2,383.5M540.2,411.8 544.1,413.1 545.5,414.7 547.2,413.6M547.2,413.6 549.7,412.0 554.7,414.8 559.7,417.6 564.7,420.4 569.7,423.2M569.7,423.2 569.7,422.0 572.5,422.0 572.3,416.1M572.3,416.1 571.9,409.1 571.6,402.0 571.1,394.9 570.3,392.6 570.8,390.8 570.3,389.5 571.0,388.3M572.3,416.1 579.6,416.1 586.9,416.1 594.2,416.1 600.6,416.1M547.2,413.6 548.0,418.2 548.9,418.9 549.0,419.9 550.0,420.9 549.5,422.1 548.7,428.0 548.7,431.8 545.5,434.6 544.5,438.4 545.6,439.5 545.6,441.4 547.2,441.5M547.2,441.5 547.0,442.8 546.3,443.0 546.2,444.0 548.0,444.7 548.2,446.6 549.5,451.2 548.1,451.2 547.4,451.4 546.3,451.1 545.7,452.5 547.2,454.2 549.1,458.7M519.8,446.3 520.0,443.8 520.7,442.6 521.1,440.9 521.7,440.2 524.4,439.9 526.9,441.0 527.8,442.1 529.1,442.1 530.3,441.4 533.3,442.9 534.6,442.9 536.0,441.6 537.5,441.7 538.2,441.3 539.6,441.5 541.5,442.3 543.4,440.7 544.0,440.8 545.6,441.4M546.2,444.0 547.2,445.1 547.0,445.6 546.9,446.6 544.8,448.9 544.1,450.7 543.8,452.2 543.3,452.9 542.8,454.9 541.4,456.1 541.1,457.6 540.5,458.8 540.3,460.0 538.6,461.0 537.2,459.7 536.2,459.8 534.7,461.5 534.0,461.6 532.8,464.3 532.2,466.4M517.6,461.7 517.7,457.4 517.6,455.5 518.1,453.7 518.9,452.8 520.1,451.0 519.8,450.2 520.3,449.1 519.7,447.3 519.8,446.3M519.8,446.3 517.9,444.7 517.0,444.7 516.2,445.5M516.2,445.5 515.6,446.4 514.4,446.7 513.9,447.9 513.1,448.3M513.1,448.3 512.7,449.8 514.4,451.7 514.5,453.1 515.0,453.7 514.9,460.4 515.4,462.1M513.3,462.7 512.9,462.0 512.2,460.2 512.0,458.7 512.6,456.1 512.0,455.0 511.7,452.7 511.7,450.6 510.7,449.1 510.9,448.2M510.9,448.2 513.1,448.3M510.9,448.2 509.7,448.0 508.9,448.4 507.8,448.2 503.4,448.4 503.4,450.0 503.7,452.2M503.6,465.5 503.7,464.6 502.7,462.1 503.3,458.8 504.4,456.4 503.7,452.2M503.7,452.2 502.0,451.5 500.8,451.6 500.0,452.3 498.8,451.7 498.4,450.7 497.3,450.1M497.3,450.1 496.2,450.5 495.7,450.9 495.3,449.7 494.6,450.0 494.1,449.9 493.6,450.8 491.7,450.7 491.0,450.3 490.7,450.6M490.7,450.6 490.2,450.8 490.0,451.8 490.6,453.0 491.2,455.3 490.2,455.7 490.0,456.1 490.2,456.7 490.0,457.9 489.6,457.9M489.6,457.9 489.5,458.8 489.7,460.2 489.2,461.5 490.8,462.5 491.8,463.7 491.9,464.8 491.6,465.2 491.4,467.2M489.6,457.9 488.9,457.9 488.4,459.0 487.7,459.0 487.2,458.4 487.4,457.2 486.3,455.4 485.7,455.8 485.1,455.8M485.1,455.8 484.4,456.0 484.0,457.2 482.8,458.8 482.2,460.3M485.1,455.8 484.5,454.9 484.1,454.1 484.2,453.3 483.6,452.1 483.0,451.0 481.0,451.0 480.4,451.6 479.7,451.6 479.2,452.3 479.0,453.1 477.6,454.4M490.7,450.6 489.8,448.5 489.2,448.8 489.3,447.9 489.8,447.1 488.8,445.9 488.5,445.1 488.0,444.4 487.5,444.4 486.9,444.8 486.1,445.2 485.4,445.8 484.3,445.6 483.6,444.8 483.2,444.7 482.6,445.1 482.2,445.1 482.1,444.1M482.1,444.1 480.3,444.0 479.6,444.4 477.8,443.7 476.6,443.6M476.6,443.6 476.5,444.6 476.2,444.9 476.5,445.9 475.5,446.3 474.8,446.8 474.1,446.7 473.0,448.0M476.6,443.6 472.0,443.5 471.3,443.8 470.5,443.8 469.3,444.2M469.2,440.7 471.8,440.6 472.4,439.9 473.2,439.9 474.2,440.6 474.9,440.6 475.8,440.1 476.3,440.9 475.2,441.6 474.1,441.6 473.0,440.9 472.1,441.6 471.6,441.6 471.0,442.1 469.3,442.0M470.0,433.1 470.8,432.3 472.0,432.6 473.2,432.0 474.6,431.9 475.8,432.8 477.4,433.6 478.9,435.7 480.5,437.7M480.5,437.7 480.6,439.5 481.0,441.2 482.0,442.0 482.2,443.2 482.1,444.1M480.5,437.7 481.3,437.2 481.8,435.5 482.6,435.4 484.3,436.2 485.7,435.6 486.7,435.8 487.0,435.2 492.0,435.2 497.0,435.1 497.6,433.1 497.2,432.7 496.6,426.4 496.1,420.1 495.6,413.8 495.0,407.5 499.0,407.4M497.3,450.1 497.8,446.2 499.7,443.8 500.1,441.8 500.8,441.1 502.0,441.4 503.1,440.9 503.4,440.1 505.3,438.8 505.8,437.9 508.1,436.7 509.5,436.3 510.1,436.8 511.7,436.8M511.7,436.8 513.3,436.7 514.3,435.7 517.6,435.4 519.9,434.9 520.0,433.2 521.4,431.2 521.4,424.5M511.7,436.8 511.5,438.2 511.9,439.5 513.3,441.4 513.3,442.9 516.2,443.5 516.2,445.5M549.1,458.7 547.9,461.6 547.3,462.2 547.1,464.4 547.4,465.7 547.2,466.5 548.4,468.0 548.6,469.1 549.5,470.6 550.7,471.5 550.8,472.8 551.1,473.7M551.1,473.7 550.9,475.3 548.9,474.6 546.9,473.8 543.7,473.7M543.7,473.7 543.4,473.5 541.9,473.9 540.4,473.5 539.2,473.7M539.2,473.7 535.6,473.7M539.2,473.7 539.2,477.2 535.5,477.2 535.0,477.3M543.7,473.7 544.2,476.5 546.1,476.2 546.7,476.8 545.6,480.2 546.8,481.9 547.1,484.2 546.8,486.1 546.0,487.5 543.8,487.4 542.4,486.0 542.2,487.3 540.5,487.6 539.7,488.4 540.6,490.3 538.8,491.8M551.1,473.7 552.4,471.0 553.9,469.4 555.6,469.9 557.2,470.1M557.2,470.1 557.0,471.9 556.3,473.4 555.8,475.2 555.5,477.8 555.7,479.5 555.2,480.5 555.2,481.5 554.9,482.5 553.2,483.9 552.1,485.4 551.0,488.2 551.1,490.6 550.4,491.5 548.9,492.9 547.4,494.8 546.5,494.2 546.3,493.4 545.0,493.4 544.1,494.5 543.4,494.2 542.5,493.2 541.8,493.7 540.9,494.8M543.4,494.2 542.5,494.8 542.1,495.6 542.0,496.8 541.7,497.0M541.8,498.0 542.8,497.7 543.5,497.7 544.4,497.4 551.8,497.4 552.4,499.6 553.1,501.3 553.7,502.3 554.6,503.8 556.3,503.6 557.1,503.2 558.5,503.6 558.9,502.8 559.5,501.1 561.1,501.0 561.2,500.5 562.5,500.5 562.3,501.6 565.3,501.5 565.4,503.4 565.8,504.5 565.4,506.2 565.6,508.0 566.4,509.1 566.2,512.6 566.8,512.3 567.9,512.4 569.5,512.0 570.6,512.1M570.6,512.1 570.9,513.0 570.5,514.4 571.0,515.8 570.6,516.9 570.8,517.9 565.5,517.9 565.4,522.5 565.2,527.2 566.8,529.5 568.4,531.4M568.4,531.4 563.8,532.6 557.8,532.1 556.1,530.7 551.1,530.8 546.0,530.9 545.7,531.1 544.2,529.8 542.6,529.7 541.1,530.2 540.2,530.6M568.4,531.4 572.0,530.9 573.0,531.5 573.0,531.8 571.6,532.4 570.8,532.4 569.2,533.6 568.3,532.4 564.4,533.4 562.6,533.5 562.4,538.7 562.2,543.9 559.7,544.0 559.4,552.6M559.4,552.6 559.2,558.0 558.9,563.4 556.7,564.9 555.4,565.1 553.9,564.6 552.8,564.3 552.5,563.1 551.5,562.3 550.6,563.4M559.4,552.6 560.1,553.0 561.4,555.8 561.1,557.6 561.6,558.6 563.3,558.3 564.6,557.0 565.8,556.1 566.5,554.7 567.7,554.0 568.7,554.4 569.8,555.2 571.8,555.4 573.4,554.7 573.7,553.7 574.2,552.4 575.5,552.1 576.3,551.0 577.2,549.1 579.6,546.9 583.1,544.7M583.1,544.7 581.6,543.4 579.8,543.0 579.1,541.1 579.2,540.1 578.1,539.7 575.5,536.5 574.8,534.8 574.3,534.3 573.4,532.0M573.4,532.0 576.2,532.3 577.0,532.6 577.8,532.6 579.3,530.7 581.5,528.3 582.4,528.1 582.8,527.0 584.2,525.9 586.1,525.5M583.1,544.7 584.2,544.8 585.3,545.2 586.2,544.9 587.4,545.2M587.4,545.2 590.2,541.9 591.0,539.8 591.4,539.5 591.7,537.8 591.4,536.9 591.6,534.7 592.2,532.7 592.4,529.0 591.1,528.1 589.9,527.9 589.4,527.1 588.3,526.5 586.2,526.6 586.1,525.5M587.4,545.2 588.4,549.3 588.9,551.4 588.2,554.7 588.4,555.7 588.7,557.0M588.4,555.7 587.2,555.2 586.5,555.4 586.2,556.2 585.4,557.3 585.4,558.3 586.7,560.0 588.2,559.6 588.8,558.3 588.7,557.0M588.8,558.3 590.5,558.3M580.8,564.9 581.6,565.7 580.7,567.1 580.3,568.1 578.9,568.6 578.4,569.5 577.5,569.8 575.8,567.5 577.3,565.7 578.6,564.5 579.8,563.9 580.8,564.9M570.6,512.1 571.5,512.2 571.6,513.1 572.8,513.0 574.4,513.3 575.2,514.6 577.2,515.0 578.7,514.1 579.2,515.6 581.1,516.0 582.0,517.3 583.0,518.9 584.9,518.9 584.8,515.8 584.1,516.3 582.4,515.2 581.7,514.6 582.1,511.7 582.6,508.3 582.1,507.0 582.8,505.1 583.5,504.8 586.9,504.3M586.9,504.3 587.9,504.6 588.9,505.3 589.9,505.8 591.5,506.3 592.9,507.2M592.9,507.2 594.0,508.5 594.6,511.0 594.2,511.7 593.6,514.1 594.0,516.5 593.2,517.5 592.3,520.2 593.6,521.0M593.6,521.0 589.8,522.2 586.0,523.4 586.1,525.5M593.6,521.0 595.0,522.4 595.7,522.1 596.6,522.9 596.7,524.0 596.2,525.4 596.2,527.4 597.8,529.3 598.6,527.2 599.7,526.6 599.7,522.9 598.7,520.8 597.9,519.8 597.0,519.9 596.4,516.1 597.2,513.8M597.2,513.8 596.6,509.9 595.8,508.5 595.3,507.7 592.9,507.2M597.2,513.8 599.1,513.6 602.1,514.4 602.8,514.1 604.5,514.0 605.4,513.1 606.9,513.2 609.7,512.0 611.5,510.6M586.9,504.3 586.6,500.9 585.2,499.3 584.7,497.6 585.0,496.1 584.5,493.4M584.5,493.4 585.6,493.3 586.5,492.2 587.5,490.7 588.1,490.1 588.1,489.1 587.6,488.5 587.4,487.3 588.2,487.0 588.3,485.2 587.3,483.6 588.2,483.2M587.4,487.3 586.1,487.1 585.3,488.8 583.8,488.6M584.5,493.4 584.4,489.9 583.8,488.6 584.0,487.0 584.4,486.8 584.5,485.0 585.2,484.2M585.2,484.2 585.8,484.5 587.3,483.6M588.2,483.2 592.1,483.2 596.1,483.1M585.2,484.2 585.2,482.0 585.8,480.9 586.0,478.6 586.5,477.2 587.4,475.7 588.4,474.9 589.2,473.9 588.2,473.5 588.3,470.1M596.1,483.1 596.5,483.4 601.1,486.4 605.6,489.3 605.8,491.0 609.3,493.9M596.1,483.1 596.1,480.0 596.8,478.8 598.0,476.9 598.9,474.7 597.8,471.4 597.5,469.9 596.3,467.9M588.3,470.1 589.4,469.3 591.0,469.9 593.0,469.3 594.7,469.3 596.3,467.9M596.3,467.9 597.8,466.2 599.5,464.3M599.5,464.3 600.8,464.8 600.8,466.4 601.7,467.3 603.4,467.3 606.6,469.8 607.4,469.9 608.0,469.8 608.6,470.1 610.3,470.3 611.0,469.1 613.3,467.9 614.3,468.9 616.0,468.9M616.0,468.9 613.9,472.2 613.9,477.5 613.9,482.8 615.4,485.1M616.0,468.9 616.7,468.0 618.3,467.9 620.5,465.9 623.8,465.7 630.7,457.0 628.6,457.0 624.4,455.3 620.3,453.6 619.3,452.5 618.3,451.1 617.8,448.5M617.8,448.5 617.2,447.9 615.3,448.1 615.2,447.2 615.0,446.4 615.7,445.1 616.6,443.8M616.6,443.8 618.2,443.4M617.8,448.5 618.6,447.1M616.6,443.8 615.7,442.8 614.6,441.1 613.4,440.2 612.7,439.2 610.5,438.0 608.8,438.0 608.2,437.4 606.7,438.0 605.2,436.7 604.5,438.9 601.6,438.3M601.6,438.3 601.2,437.1 602.1,432.8 602.3,430.9 603.0,430.0 604.8,429.5 606.0,427.9M601.6,438.3 601.3,440.8 600.4,443.7 598.9,445.1 597.9,447.3 597.7,448.5 596.5,449.3 595.9,452.4M595.9,452.4 596.0,455.0 595.6,455.9 594.3,456.0 593.5,457.7 595.0,457.9 596.3,459.3 596.8,460.4 597.9,461.1 599.5,464.3M595.9,452.4 595.5,451.2 595.2,450.2 593.9,449.1 593.5,447.0 593.8,444.8 592.6,444.6 592.5,445.3 590.9,445.4 591.6,446.3 591.8,448.0 590.5,449.6 589.3,451.7 588.0,452.0 585.9,450.3 585.0,451.0 584.7,451.8 583.4,452.3 583.4,452.9 580.9,452.9 580.5,452.3 578.7,452.2 577.8,452.7 577.1,452.5 575.8,450.8 575.4,450.0 573.6,450.4 572.9,451.7 572.3,454.3 571.4,454.9 570.7,455.2M570.7,455.2 570.5,455.1 569.6,454.2 569.4,453.3 569.8,452.1 569.8,450.9 568.3,449.1 568.0,447.9M568.0,447.9 568.0,447.2 567.1,446.3 567.0,444.6 566.5,443.5 565.6,443.6 565.8,442.6 566.4,441.4 566.1,440.1 566.9,439.3 566.4,438.6 567.0,436.8 568.1,434.6 570.2,434.8 570.0,429.0 569.7,423.2M568.0,447.9 566.4,448.4 565.2,449.5 563.4,452.7 561.1,454.1 558.6,453.9 557.9,454.2 558.2,455.2 556.9,456.2 555.9,457.3 552.7,458.4 552.1,457.8 551.7,457.7 551.2,458.5 549.1,458.7M570.7,455.2 572.4,456.3 573.8,457.5 573.8,458.5 575.6,460.0 576.6,461.2 577.3,463.0 579.2,464.1 579.6,465.1M579.6,465.1 578.7,465.4 577.1,465.3 575.2,465.0 574.3,465.3 574.0,466.0 573.1,466.0 572.1,465.4 569.4,466.9 568.2,466.6 567.9,466.8 567.1,468.6 565.2,468.0 563.4,467.7 561.8,466.6 559.7,465.7 558.4,466.6 557.4,468.1 557.2,470.1M579.6,465.1 581.1,467.5 582.3,467.8 582.9,467.3 584.1,467.5 585.5,466.9 586.1,468.2 588.3,470.1M593.0,389.1 595.0,394.2M490.9,357.3 492.4,358.3 493.7,358.3 494.1,357.9 495.5,358.0 496.1,359.5 495.0,360.2 494.9,362.5 494.5,362.9 494.4,364.3 493.4,364.5 494.3,366.3 493.6,368.2 494.4,369.1 494.0,369.9 493.1,371.0 493.3,371.8M506.6,353.8 507.4,354.7 511.6,356.0 512.4,355.3 515.0,356.7 517.7,356.3M527.8,352.4 528.0,351.5 526.7,351.2 526.1,348.9 526.9,348.1 526.2,347.0 526.2,346.2M526.2,346.2 525.4,344.9 524.4,345.4 524.4,344.1 526.0,342.5 525.9,341.7 526.9,342.0 527.5,341.5M526.2,346.2 527.2,346.8 528.5,346.7 529.5,345.7 529.9,346.1 531.0,346.7 531.4,344.9 533.1,345.3 534.1,344.8 534.2,343.6M534.2,343.6 533.1,343.5 532.0,343.0 532.4,342.3 532.2,341.8M527.5,341.5 529.4,341.5 529.8,340.9 532.2,341.8M527.5,341.5 527.7,339.5 528.8,337.5 525.6,337.0 524.5,336.3M523.8,336.4 523.3,336.1 521.4,334.8 520.3,335.0 518.7,333.7 517.6,332.6 516.6,332.5 516.4,331.9M518.5,331.1 519.7,331.2 521.7,330.6 523.1,331.9 524.3,332.5M524.3,332.5 524.1,334.4M524.1,334.4 524.6,335.1 524.5,336.3M524.1,334.4 523.5,334.5 523.3,336.1M524.3,332.5 523.9,329.6 525.2,329.6 525.7,328.5 526.1,326.0 525.9,325.4M529.4,321.2 531.0,321.3M541.2,324.3 541.8,325.7 541.2,326.4 542.1,327.4 542.8,328.9 542.7,329.9 543.7,331.7 542.7,332.0M542.7,332.0 542.1,331.6 541.6,332.2 540.1,332.7 539.3,333.4 537.7,334.0 538.2,334.9 538.5,336.0 539.6,336.7 541.0,337.9 541.5,338.3M541.5,338.3 540.3,339.2 539.5,339.6 539.9,341.5 539.7,341.9 539.0,341.4 537.9,341.3 536.4,341.8 534.4,341.7 534.1,342.4 532.9,341.6 532.2,341.8M543.7,331.7 544.8,332.6 546.4,332.8 546.4,333.6 547.6,334.2 547.9,333.5 549.4,333.8 549.7,334.6 551.3,334.8 552.5,336.2M552.5,336.2 552.6,336.4 553.5,336.0 554.7,337.0 556.0,336.4 557.0,336.7 558.6,336.3 560.8,337.3M560.8,337.3 561.3,337.5 560.6,336.2 562.4,333.9 563.4,333.6 563.5,332.8 562.2,330.3M562.2,330.3 562.0,329.1 561.2,327.8 562.4,327.3 562.3,326.1 561.6,325.1 561.3,323.9M561.3,323.9 560.7,323.0 559.6,322.7M559.6,322.7 555.6,322.8 552.9,322.4M541.5,338.3 542.7,338.8 543.8,337.7 544.6,337.5 546.4,338.4 547.4,338.2 548.5,338.7M548.5,338.7 548.8,338.1 549.8,338.2 550.5,337.9 550.5,337.6 550.9,337.5 551.0,336.8 551.5,336.7 551.8,336.2 552.5,336.2M548.5,338.7 548.3,339.1 548.6,340.1 549.8,340.8M549.8,340.8 548.5,341.3 547.3,341.3 547.8,341.9 547.2,343.7M547.2,343.7 546.8,344.2 544.8,344.3 543.7,344.9 541.8,344.7M541.8,344.7 538.6,343.9 538.0,342.9 535.8,343.5 535.6,344.0 534.2,343.6M541.8,344.7 541.7,346.1 542.3,347.3 541.9,347.6M541.8,347.6 543.4,347.7 543.8,347.2 544.6,347.7 545.5,347.7 545.4,346.9 546.2,346.6 546.3,345.5 548.0,344.7 547.5,343.7 547.2,343.7M549.8,340.8 550.7,341.1 552.5,340.8 552.7,340.2 554.6,339.7 554.8,339.9 555.9,339.5 556.3,338.8 557.0,338.7 559.5,339.5 559.9,339.2M559.9,339.2 561.2,340.0 561.5,340.8M561.5,340.8 560.2,341.4 559.3,343.3 558.1,345.2 556.4,345.8M556.4,345.8 554.9,345.7 553.3,346.4M553.3,346.4 552.5,346.8 550.6,346.3 548.8,345.1 548.0,344.7M546.9,348.4 546.5,349.5 547.7,350.9 548.3,351.8 549.4,352.8 550.3,353.5 551.2,354.7 553.4,355.8M546.9,348.4 547.8,349.0 548.2,348.4 549.3,348.4 551.3,348.8 552.8,348.8 553.9,349.4M553.9,349.4 554.6,348.3 553.9,347.5 553.3,346.4M553.9,349.4 554.7,349.4 554.3,350.7 555.4,351.8 555.2,353.1 554.7,353.3M554.7,353.3 553.6,354.2 553.4,355.8M556.4,345.8 557.7,346.9 558.0,347.8 559.4,348.5 559.7,349.7 561.1,350.5 561.8,349.9 562.4,350.2 561.9,350.7 562.4,351.2M562.4,351.2 561.8,351.9 562.1,352.9 563.4,354.2 562.6,355.1 562.3,356.0 562.2,356.7M562.2,356.7 561.1,356.8 560.4,356.9M554.7,353.3 555.3,353.8 555.7,354.2 556.5,354.5 557.4,355.1 557.2,355.3 556.8,356.0M556.8,356.0 556.2,356.2 556.0,355.7 555.1,357.1 555.3,357.9M556.8,356.0 557.4,356.7 557.9,357.0 558.2,358.1 558.0,359.1 558.4,360.3 559.4,361.0M559.4,361.0 559.4,361.8 558.7,362.2 558.6,363.1 557.8,364.4M558.2,358.1 558.5,358.1 558.5,357.5 559.9,357.1 560.4,356.9M557.2,355.3 557.7,355.1 558.0,354.1 558.4,354.0 558.7,354.4 559.2,354.6 559.5,355.0 559.9,355.2 560.4,355.7 560.7,355.7 560.5,356.4 560.3,356.7 560.4,356.9M559.4,361.0 560.9,360.8 561.7,360.1 563.0,360.2 563.3,359.7 563.7,359.6M563.7,359.6 563.4,357.7 562.2,356.7M563.7,359.6 565.5,359.7 567.2,358.9 569.0,359.9 571.0,359.6 571.5,358.5M571.5,358.5 572.2,359.5 571.6,360.7 571.2,361.4M571.5,358.5 571.9,358.0 573.2,357.3 574.7,357.6M562.4,351.2 564.0,352.2 565.8,352.6 569.1,352.8 570.2,352.1 572.8,351.4 574.6,352.4 575.7,352.7M561.5,340.8 562.4,340.2 566.3,341.2 567.1,340.8 568.7,340.5 570.1,339.8M570.1,339.8 570.8,340.1 571.6,340.9 572.4,342.1 573.9,343.8 574.2,345.1 574.1,346.3 574.6,347.6M574.6,347.6 575.7,348.1 576.7,347.7 577.8,348.2 577.8,348.2M570.1,339.8 570.6,339.4 572.0,339.1 573.8,340.0 574.7,340.1 575.8,340.9 575.8,341.8 576.6,342.3 577.1,343.5 578.0,344.2 577.9,344.6 578.3,344.9 577.8,345.1 576.4,345.1 576.2,344.7 575.7,344.9 575.9,345.4 575.4,346.3 575.2,347.3 574.6,347.6M560.8,337.3 560.2,338.1 559.9,339.2M562.2,330.3 563.2,330.2 564.3,329.5 566.0,329.4 568.2,329.6 570.7,330.3 572.5,330.4 573.3,330.8 574.1,330.3 574.7,330.9 576.7,330.8 577.6,331.1 577.6,329.7 578.1,329.1 580.0,328.9M580.0,328.9 580.8,329.0 581.2,328.4 581.9,328.5 584.1,328.2 585.8,329.8 585.3,330.4 585.7,331.2 587.4,331.4 588.4,332.6 588.5,333.1 591.4,334.1 593.0,333.7 594.6,335.0 595.9,335.0 599.3,335.9 599.5,336.7 598.9,338.2 599.7,339.8 599.5,340.7 597.3,340.9 596.3,341.7 596.5,343.0M580.0,328.9 579.2,327.1 578.5,326.2 578.9,325.9 580.6,326.0 581.4,325.4 580.6,324.7 579.1,324.2 579.2,323.7 578.2,323.2 576.6,321.4 576.9,320.7 576.5,319.4 574.3,318.7 573.2,319.0 572.8,318.4 570.5,317.7M570.5,317.7 569.8,317.7 567.1,319.2M567.1,319.2 567.5,320.4 565.9,321.3 565.6,322.9 563.4,323.9 561.3,323.9M567.1,319.2 564.9,317.9 563.8,317.7 563.4,317.1 561.4,317.4 557.8,317.2 555.6,318.0M559.6,322.7 559.3,322.0 559.4,321.3 558.5,320.8 556.2,320.4M570.5,317.7 569.6,316.1 569.2,314.8 568.1,314.1M568.1,314.1 566.3,314.1 564.4,313.1 563.4,312.8 562.0,313.2M568.1,314.1 568.9,313.3 567.8,310.8 569.1,309.2 568.7,308.8M568.3,305.6 570.0,304.2 571.8,302.9 573.8,301.2 574.3,299.8 571.0,298.1 571.5,296.4 569.3,294.5 570.2,292.3 567.4,289.4 568.8,287.5 565.5,285.9 565.4,284.1M565.4,284.1 565.9,282.4 563.2,281.4 560.5,282.2 559.9,284.1 558.2,285.1 556.1,284.5 553.6,284.7 551.3,283.4 550.2,284.0M550.2,284.0 553.0,285.2 556.2,286.9 556.9,290.8 557.7,291.8 558.1,292.2M550.2,284.0 549.1,284.1 549.0,285.7 545.3,285.3 545.0,286.7 543.1,286.7 542.1,288.5 540.4,291.3 537.7,294.9 538.5,295.7 537.9,296.8 535.9,296.7 534.8,299.2 535.2,302.6 536.6,304.0 536.1,307.1 534.5,308.9 534.1,309.7M565.4,284.1 566.9,283.9 567.9,283.0 568.6,282.7M495.3,320.7 494.6,321.6 493.3,322.4 494.5,323.2 495.8,322.5 496.6,323.5 497.4,323.3M602.2,353.3 602.3,353.2 604.3,353.7 607.7,354.1 611.1,355.5 611.6,356.1 612.9,355.6 615.1,356.2 616.0,357.4 617.6,358.1M617.6,358.1 617.1,358.5 618.5,360.0 618.2,360.4 616.9,360.2 615.1,359.4 614.6,359.8M614.6,359.8 611.4,360.3M611.4,360.3 609.0,358.9 606.8,359.0M611.4,360.3 612.0,361.3 612.0,362.7 613.8,363.4 614.9,364.3M614.6,359.8 615.2,360.6 616.2,361.1 615.8,361.8 617.2,362.8 616.7,363.8 617.8,364.5 618.9,365.0 619.3,367.0 618.5,367.1M614.9,364.3 615.4,364.2 616.2,365.0 617.2,365.0 617.3,365.4 618.5,367.1 616.8,366.8 615.4,365.4 614.9,364.3M617.6,358.1 618.3,358.2 620.1,359.9 621.2,360.1 621.5,359.4 622.6,358.2M619.3,367.0 621.7,364.9 622.5,364.7 623.4,365.5 622.8,367.0 624.5,368.5 624.8,368.4M596.1,375.7 596.7,375.0 597.3,374.4 597.2,372.7 598.0,373.3 600.5,372.5 601.8,373.1 603.8,373.0 606.3,371.9 610.2,371.5M610.2,371.5 611.2,371.1 614.0,371.4 614.9,372.2 615.9,371.7M615.9,371.7 614.3,369.4 614.6,368.5 613.4,365.1 614.9,364.3M610.2,371.5 609.3,373.3 608.1,374.1 608.6,376.2 608.1,379.7 603.2,382.8M603.2,382.8 598.8,385.9 596.1,384.8M596.1,383.1 596.6,381.5 597.7,380.4 597.2,379.3 596.2,379.1M594.7,383.6 595.3,383.6 595.5,383.1 596.1,383.1 596.1,384.8M596.1,384.8 595.8,385.7 595.9,387.5 595.7,388.3 595.8,389.5 595.0,394.2M603.2,382.8 604.6,386.4M604.6,386.4 604.1,386.8 599.5,388.3 602.2,391.2 601.4,391.7 601.1,392.7 599.3,393.1 598.8,394.1 597.9,395.0 595.2,394.6M604.6,386.4 607.5,387.2 611.3,389.2 618.7,395.1 623.3,395.3M623.3,395.3 624.7,392.5 626.3,392.8M623.3,395.3 625.4,395.6 626.2,397.0 627.6,397.0M615.9,371.7 618.0,375.2 619.6,376.1 620.0,377.8 619.0,378.8 618.8,381.1 620.8,383.8 623.9,385.5 625.4,387.7 625.3,389.8 626.0,389.8 626.3,391.4 627.6,392.7M617.1,432.7 618.1,431.7 617.8,430.5 618.4,429.1 619.4,429.8 620.1,429.6 623.0,429.5 623.4,429.8 625.8,430.1 626.8,429.9 627.5,430.9 628.6,430.4 630.1,427.3 632.4,426.0 639.4,424.9M639.4,424.9 646.6,422.0 647.7,416.1M639.4,424.9 642.6,431.7M647.7,416.1 646.3,414.1 639.8,413.4 638.4,413.2 637.1,410.3 637.0,409.6M647.7,416.1 647.8,409.9 647.3,409.5 648.5,407.6M634.9,408.1 635.7,408.6 636.3,408.5M637.5,371.6 639.4,371.1 640.7,369.4 642.3,369.5 643.3,368.9 645.0,369.2 647.8,370.7 649.8,371.0 653.0,373.6 654.7,373.7 655.4,376.2M655.4,376.2 655.1,379.8 654.8,381.9 655.9,382.4 655.2,384.0 656.4,386.3 656.8,388.2 658.7,388.7 659.2,390.5 657.5,393.2M657.5,393.2 658.9,394.8 660.1,396.5 662.6,397.8 663.1,400.4 664.3,400.8 664.7,402.2 661.4,403.7 661.0,406.9M657.5,393.2 661.7,394.7 664.1,394.3 665.6,394.6 666.0,394.0 667.7,394.3 670.6,393.0 670.3,390.5 671.4,388.9 673.1,388.9 673.2,388.1 675.0,387.7 676.0,388.0 676.7,387.1 676.3,385.4 676.9,383.6 678.3,382.9 677.0,380.9 679.3,381.0 679.7,380.0 679.4,378.8 680.3,377.6 679.7,376.2 678.9,374.9 680.0,373.6 682.3,373.0 685.0,372.7 686.0,372.1M686.0,372.1 686.7,371.0 684.3,371.0 682.6,370.7 681.5,372.1 680.5,372.4 679.8,373.0 678.7,372.0 678.3,369.6 677.6,369.4 677.6,368.5 676.2,367.9 675.4,368.9 675.4,370.0 675.2,370.5 673.8,370.4 673.3,371.8 672.4,371.2 670.9,372.1 670.1,371.8M670.1,371.8 666.9,371.2M666.9,371.2 666.2,371.1 664.9,370.3 664.7,371.3 662.9,371.9 662.9,374.2 661.7,375.1 660.0,375.5 659.7,376.9 658.0,377.3 655.4,376.2M666.9,371.2 666.6,369.4 663.2,368.1 660.4,366.7 658.6,365.3 655.5,363.3 653.7,360.3 652.8,359.8 650.4,359.9 649.3,359.3 648.6,357.0 645.2,355.5 643.6,357.2 641.8,358.2 642.5,359.6 639.9,359.7M639.9,359.7 638.8,359.8 636.7,357.5 635.0,356.7 632.5,357.3 632.1,357.8M639.9,359.7 638.8,354.3 637.5,349.0 643.0,347.3 643.5,347.6 647.5,349.6 649.6,350.7 652.4,353.3 655.0,352.9 658.8,352.7 662.1,354.8 662.6,357.7 663.8,357.7 664.8,360.1 667.8,360.2 668.7,361.5 669.6,361.5 670.1,359.5 672.6,357.4 673.8,356.9M673.8,356.9 674.0,355.6 675.4,355.2 679.4,356.2 679.3,354.5 680.4,353.9 684.0,355.1 684.8,354.8 688.6,354.9 692.1,355.2 693.5,356.2 695.1,356.6M695.1,356.6 695.0,357.3 691.8,358.9 691.3,360.0 688.4,360.4 688.1,362.2 685.5,361.8 684.1,362.4 682.2,363.8 682.7,364.5 682.2,365.1M682.2,365.1 683.5,367.8 684.2,367.5 685.7,368.2 685.9,369.3 686.7,371.0M682.2,365.1 677.9,365.6 674.8,364.6 672.3,364.8 672.2,363.2 674.8,363.6 675.4,362.8M673.8,356.9 673.5,359.1 675.1,360.2 676.6,359.4 679.7,360.9 677.2,363.0 675.4,362.8M675.4,362.8 674.5,362.8 674.0,362.0 674.1,360.7 671.2,361.3 670.9,363.2 670.2,364.8 668.2,364.7 667.9,366.0 669.8,366.7 670.8,368.8 670.1,371.8M620.9,344.4 619.9,343.1 618.1,341.2 616.5,341.2 614.2,339.3 615.0,337.2 614.2,336.6 615.3,333.5 618.0,335.1 617.8,333.1 621.6,330.0 625.0,330.0 630.3,331.9 633.2,333.0 635.2,331.9 638.6,331.8 641.8,333.2 642.2,332.4 645.4,332.5 645.5,331.2 641.4,329.3 643.1,327.9 642.5,327.2 644.3,326.4 642.2,324.6 642.9,323.6 646.7,323.1 650.6,322.7 651.4,322.0 656.4,321.0 657.9,319.8 662.0,320.4 663.7,323.3 665.7,322.6 668.8,323.5 669.2,325.0 671.2,324.9 675.6,322.3 675.1,323.1 678.7,325.3 686.3,332.4 686.9,330.9 690.6,332.5 693.4,331.8 694.8,332.3 696.5,333.9 698.3,334.4 699.7,335.7 702.4,335.3 704.3,337.0M704.3,337.0 703.3,338.9 701.6,339.1 702.5,342.0 701.8,343.3 697.0,342.3 697.1,347.5 696.2,348.1 692.1,349.2 695.7,354.3 694.4,355.0 695.1,356.6M704.3,337.0 705.0,336.8 707.2,336.3 710.4,333.9 713.1,332.5 715.4,333.4 717.7,333.4 719.8,334.8 722.0,334.8 725.5,335.5 726.8,333.6 725.1,331.9 726.0,329.0 729.0,330.2 731.2,330.5 734.1,331.2 735.5,333.3 739.2,334.5 741.0,334.0 743.6,333.6 746.0,334.0 748.9,335.4 750.9,336.8 753.0,336.8 756.0,337.2 757.7,336.5 760.3,336.1 762.5,334.1 764.0,334.4 765.7,335.3 768.2,335.1M705.0,336.8 706.4,338.7 708.9,340.2 712.5,341.3 714.9,343.6 715.3,346.9 716.6,348.2 719.5,348.7 722.7,349.1 726.1,350.9 727.6,351.2 729.6,353.8 731.6,355.6 734.1,355.5 739.1,356.2 742.0,355.8 744.4,356.2 748.5,357.9 751.3,357.9 752.6,358.8 754.7,357.3 758.0,356.3 761.4,356.2 763.7,355.1 764.7,353.6 765.8,352.6 765.1,351.7 763.8,350.6 764.2,348.7 765.6,349.0 768.2,349.6 769.7,348.0 772.7,346.9 773.4,345.0 774.6,344.2 777.6,343.8 779.6,344.2 779.3,343.1 776.2,341.1 774.0,340.2 772.8,341.3 770.4,340.9 769.3,341.2 768.1,340.0 768.2,337.2 768.2,335.1M768.2,335.1 771.4,336.2 773.5,334.4 772.8,333.1 773.1,330.2 773.8,329.3 772.8,327.7 771.3,327.1 772.2,325.7 774.6,325.2 777.4,325.1 781.2,325.9 783.7,327.0 786.8,329.8 788.3,331.0 790.2,332.7 792.6,335.5 797.0,336.4 800.8,338.4 803.2,341.0 806.6,341.0 807.9,339.9 811.1,339.1 811.4,341.6 811.2,342.7 812.2,345.8 812.2,348.6 809.2,348.1 807.8,349.1 809.7,351.6 811.1,355.0 809.9,355.1 810.7,356.5M810.7,356.5 808.3,354.8 808.3,356.4 805.3,357.7 806.4,359.2 804.3,359.1 802.8,358.2 802.2,360.2 800.3,361.8 799.4,363.4M806.4,369.9 807.6,369.9 807.9,368.5 809.5,368.4 810.1,367.8M677.8,411.2 679.2,409.2 684.5,409.2 683.7,406.7 682.1,405.2 681.5,403.0 679.7,401.7 681.9,398.6 684.7,398.8 686.7,395.7 687.7,392.8 689.5,389.8 689.0,387.7 690.7,386.0 688.5,384.6M686.0,372.1 687.3,371.8 689.4,373.2 690.6,375.4 694.8,376.6M694.8,376.6 698.1,380.0 698.4,382.4 699.7,383.9 700.0,385.4 698.2,385.0 699.5,388.2 702.3,390.1 706.0,392.2M706.0,392.2 706.9,391.5 709.0,392.3 711.8,394.3 713.3,394.7 714.4,396.1 716.4,396.7 718.6,398.0 721.5,398.7 724.3,398.9M706.0,392.2 704.8,393.5 704.4,396.2 706.9,397.3 709.5,398.8 713.0,400.4 716.4,400.8 718.0,402.3 720.0,402.6 723.0,403.3 725.0,403.2 725.1,402.1 724.3,398.9M724.3,398.9 725.7,398.3 726.4,400.6M726.4,400.6 727.5,398.4 728.7,397.7 730.6,398.4 731.8,398.4 733.1,399.2 734.3,400.2 734.5,402.0 732.5,402.1 730.4,401.8 729.0,402.3 726.5,401.2 726.4,400.6M733.1,399.2 734.9,398.9 736.7,396.7 739.0,394.8 741.2,395.5 742.7,394.3 744.2,396.1 743.7,397.4 746.4,397.8M746.4,397.8 746.8,398.9 746.1,399.4 746.7,401.3 744.9,400.7 742.1,402.8 742.6,404.4 741.7,406.9 741.8,408.3 741.2,410.7 739.2,410.1 739.6,413.1 739.3,414.1 739.7,415.3 738.6,416.0M738.6,416.0 736.5,411.4 735.9,411.4 735.8,413.2 734.2,411.7 734.7,410.1 735.7,409.9 736.4,407.4 734.9,406.9 732.6,407.0 730.2,406.6 729.6,404.5 728.4,404.4 726.2,403.1 725.8,405.1 727.8,406.7 726.5,407.7 726.1,408.8 727.8,409.6 727.7,411.4 728.9,413.6 729.7,416.0M738.6,416.0 738.9,418.1 738.0,417.7 738.4,419.2M746.4,397.8 747.8,397.6 749.0,399.3 750.2,400.0 750.7,402.3 751.2,404.7 749.4,407.1 749.7,410.6 752.3,410.1 753.4,412.8 755.0,413.4 754.7,415.8 756.8,416.9 757.9,417.4 759.6,416.6M759.6,416.6 759.9,417.8 761.5,418.6 760.6,415.2 761.8,414.8M761.8,414.8 762.9,414.1 764.8,414.1 767.2,413.7 769.0,412.2 770.4,413.3 772.8,413.8 772.7,415.5 774.1,416.7 776.7,417.5M759.9,417.8 758.1,419.7 757.8,420.8M757.8,420.8 756.4,421.4 755.2,422.7 753.5,422.8 752.9,426.0 751.9,426.5 753.5,429.1 755.3,431.2 756.6,433.2 756.0,435.7 755.2,436.3 756.0,437.7 757.9,440.0 758.4,441.6 758.5,443.0 759.7,445.7 758.6,448.4 757.7,451.0M757.8,420.8 759.0,421.7 759.4,423.4 761.1,423.6 761.0,426.6 761.4,429.3 763.8,427.5 764.6,428.0 766.0,428.0 766.4,426.9 768.3,427.1 770.5,429.5 771.1,432.4 773.4,434.9 773.6,437.4 773.0,438.7M773.0,438.7 770.6,438.3 767.5,438.8 766.1,441.3 767.1,444.8M761.8,414.8 763.6,417.1 765.2,419.7 768.2,419.8 769.6,422.3 768.2,423.1 767.7,424.1 770.9,425.9 773.5,429.3 775.4,431.9 777.6,433.9 778.5,436.0 778.4,438.9M778.4,438.9 776.1,437.9 775.2,439.9 773.0,438.7M778.4,438.9 779.2,440.9 779.3,444.4 775.3,446.6 776.6,448.4 774.0,448.6 772.1,449.7M762.2,461.3 762.5,461.0 764.6,462.3 764.9,463.7 766.5,463.4 767.3,462.2M786.6,474.5 787.1,476.4 788.8,478.1 790.4,477.4 792.1,477.7 793.5,476.2 794.7,475.9 797.1,476.7 799.1,476.1 800.3,472.1 801.3,471.1 802.1,467.8 804.9,467.8 806.9,468.2M797.9,467.3 799.0,468.6 799.5,467.6 800.7,467.7 800.8,465.9M865.4,488.0 865.2,494.2 864.7,500.5 864.2,506.6M824.0,506.2 824.2,507.6"/></g>
<g fill="none" stroke="#6a6a6a" stroke-width="0.8" stroke-dasharray="1.1 1.3"><path d="M688.5,384.6 687.3,382.6 685.9,380.0 686.8,378.8 690.5,379.5 693.1,379.1 694.8,376.6M690.7,386.0 692.1,384.2 695.3,384.5 698.2,385.0M698.1,380.0 699.1,378.1 700.4,376.6 699.3,375.1"/></g>
<g fill="#25aeae" class="bub"><circle cx="231.4" cy="384.4" r="25.5"/><circle cx="225.3" cy="369.0" r="18.3"/><circle cx="228.5" cy="367.0" r="15.8"/><circle cx="224.5" cy="371.0" r="14.0"/><circle cx="226.0" cy="370.0" r="13.0"/><circle cx="225.5" cy="370.3" r="12.3"/><circle cx="226.0" cy="369.5" r="11.0"/><circle cx="231.7" cy="385.0" r="9.1"/><circle cx="256.1" cy="419.8" r="6.2"/><circle cx="266.2" cy="423.5" r="5.2"/><circle cx="296.9" cy="335.1" r="5.1"/><circle cx="317.7" cy="363.0" r="16.1"/><circle cx="321.3" cy="375.5" r="13.7"/><circle cx="328.7" cy="351.4" r="11.5"/><circle cx="326.0" cy="353.7" r="9.3"/><circle cx="328.0" cy="352.8" r="6.8"/><circle cx="329.4" cy="352.2" r="4.9"/><circle cx="338.5" cy="362.2" r="10.5"/><circle cx="349.1" cy="356.6" r="14.0"/><circle cx="345.1" cy="346.4" r="6.3"/><circle cx="366.8" cy="349.8" r="4.9"/><circle cx="336.3" cy="360.5" r="2.9"/><circle cx="501.9" cy="318.4" r="4.9"/><circle cx="510.4" cy="329.9" r="6.8"/><circle cx="507.9" cy="327.0" r="4.9"/><circle cx="509.4" cy="329.4" r="4.4"/><circle cx="509.6" cy="329.2" r="3.4"/><circle cx="509.4" cy="329.3" r="2.6"/><circle cx="501.6" cy="362.1" r="11.7"/><circle cx="502.6" cy="371.4" r="3.7"/><circle cx="516.1" cy="359.2" r="12.2"/><circle cx="516.1" cy="358.7" r="6.6"/><circle cx="515.8" cy="358.2" r="3.1"/><circle cx="510.2" cy="364.6" r="3.4"/><circle cx="511.5" cy="356.5" r="2.2"/><circle cx="529.4" cy="342.6" r="10.2"/><circle cx="538.1" cy="339.3" r="7.0"/><circle cx="529.3" cy="340.5" r="5.3"/><circle cx="529.5" cy="340.8" r="3.5"/><circle cx="527.6" cy="331.1" r="5.9"/><circle cx="527.0" cy="333.4" r="7.6"/><circle cx="528.7" cy="335.8" r="7.0"/><circle cx="533.4" cy="329.9" r="4.7"/><circle cx="532.0" cy="324.1" r="8.8"/><circle cx="535.2" cy="323.5" r="6.7"/><circle cx="541.9" cy="322.9" r="7.6"/><circle cx="548.1" cy="327.6" r="5.6"/><circle cx="547.8" cy="329.9" r="4.4"/><circle cx="540.9" cy="324.4" r="1.2"/><circle cx="544.0" cy="324.6" r="1.5"/><circle cx="528.5" cy="337.5" r="4.5"/><circle cx="529.0" cy="339.0" r="2.5"/><circle cx="557.3" cy="328.4" r="13.7"/><circle cx="556.3" cy="334.6" r="4.1"/><circle cx="529.2" cy="341.8" r="8.8"/><circle cx="529.3" cy="340.8" r="4.6"/><circle cx="529.5" cy="340.4" r="3.0"/><circle cx="536.3" cy="331.8" r="5.6"/><circle cx="527.8" cy="332.0" r="4.2"/><circle cx="531.0" cy="336.5" r="6.0"/><circle cx="697.3" cy="397.2" r="9.4"/><circle cx="697.3" cy="396.4" r="4.9"/><circle cx="727.8" cy="414.2" r="5.2"/><circle cx="694.0" cy="426.0" r="17.3"/><circle cx="690.7" cy="424.3" r="7.0"/><circle cx="690.7" cy="423.6" r="3.8"/><circle cx="704.8" cy="442.1" r="20.9"/><circle cx="705.5" cy="429.2" r="10.8"/><circle cx="711.0" cy="441.9" r="6.1"/><circle cx="870.1" cy="578.9" r="13.2"/><circle cx="870.1" cy="578.9" r="4.7"/><circle cx="870.1" cy="578.9" r="2.5"/><circle cx="850.5" cy="590.7" r="4.3"/><circle cx="850.5" cy="590.7" r="2.6"/><circle cx="882.0" cy="560.2" r="3.1"/></g>
</svg>
<div class="src">Source: GlobalData</div>
</body></html>
